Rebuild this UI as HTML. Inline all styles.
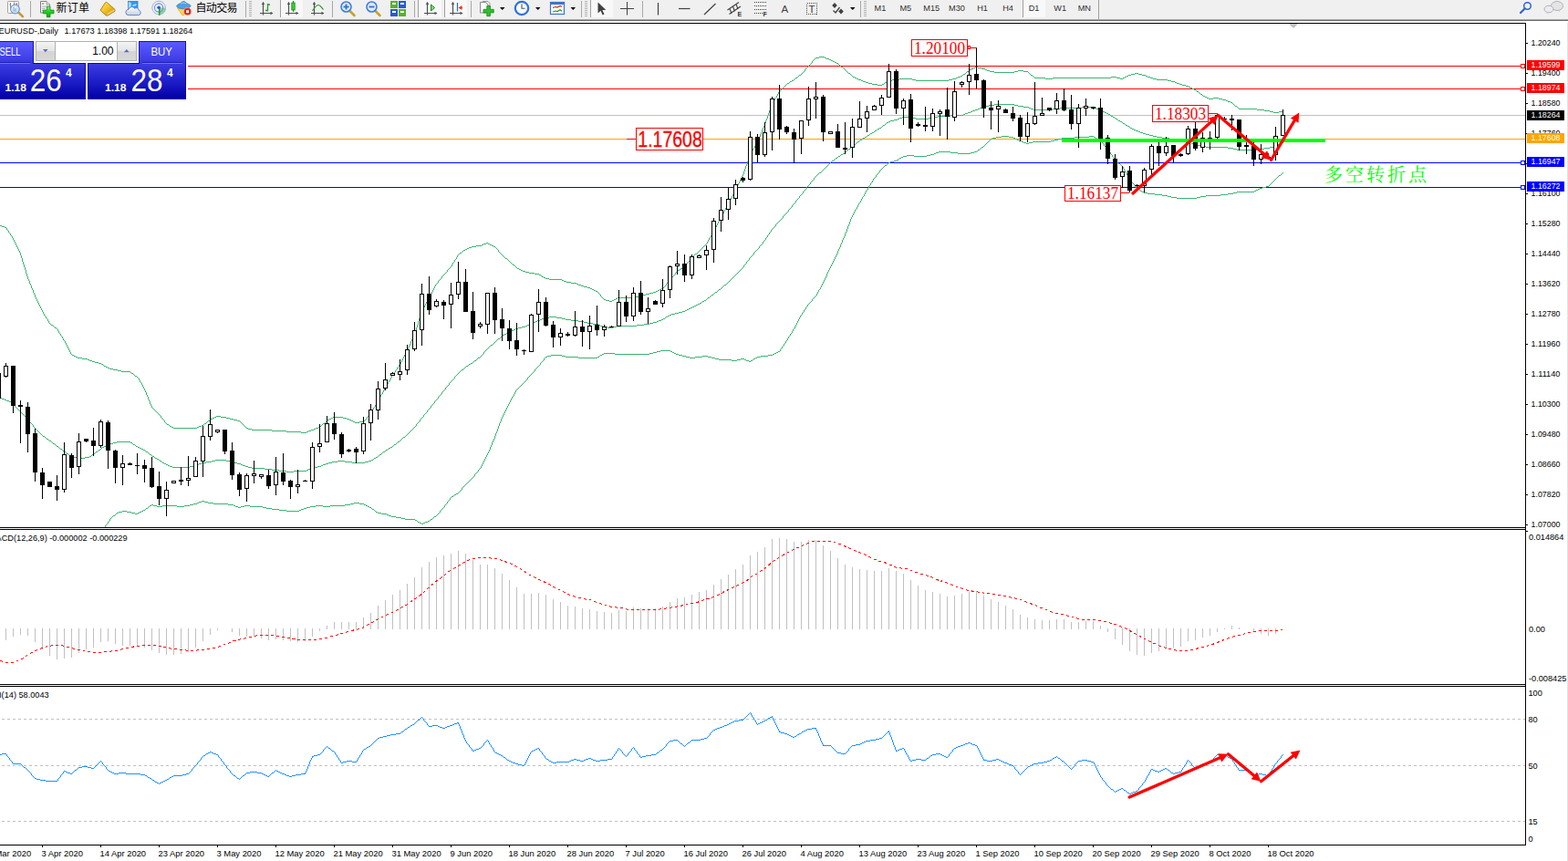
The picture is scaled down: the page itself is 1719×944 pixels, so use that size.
<!DOCTYPE html>
<html><head><meta charset="utf-8"><title>EURUSD Daily</title>
<style>html,body{margin:0;padding:0;background:#fff;overflow:hidden}svg{display:block}</style>
</head><body>
<svg width="1719" height="944" viewBox="0 0 1719 944">
<rect x="0" y="0" width="1719" height="944" fill="#ffffff"/>
<g shape-rendering="crispEdges">
<rect x="0" y="72" width="1667" height="1" fill="#ff0000"/>
<rect x="0" y="97" width="1667" height="1" fill="#ff0000"/>
<rect x="0" y="126" width="1672" height="1" fill="#c0c0c0"/>
<rect x="0" y="152" width="1672" height="1" fill="#ffa500"/>
<rect x="0" y="178" width="1667" height="1" fill="#0000ff"/>
<rect x="0" y="205" width="1667" height="1" fill="#0000ff"/>
<line x1="0" y1="788.5" x2="1672" y2="788.5" stroke="#c0c0c0" stroke-width="1" stroke-dasharray="3 3" stroke-dashoffset="-2"/>
<line x1="0" y1="839.5" x2="1672" y2="839.5" stroke="#c0c0c0" stroke-width="1" stroke-dasharray="3 3" stroke-dashoffset="-2"/>
<line x1="0" y1="900.5" x2="1672" y2="900.5" stroke="#c0c0c0" stroke-width="1" stroke-dasharray="3 3" stroke-dashoffset="-2"/>
<rect x="6" y="689" width="1" height="13" fill="#c0c0c0"/>
<rect x="14" y="689" width="1" height="9" fill="#c0c0c0"/>
<rect x="22" y="689" width="1" height="7" fill="#c0c0c0"/>
<rect x="30" y="689" width="1" height="8" fill="#c0c0c0"/>
<rect x="38" y="689" width="1" height="15" fill="#c0c0c0"/>
<rect x="46" y="689" width="1" height="23" fill="#c0c0c0"/>
<rect x="54" y="689" width="1" height="30" fill="#c0c0c0"/>
<rect x="62" y="689" width="1" height="34" fill="#c0c0c0"/>
<rect x="70" y="689" width="1" height="33" fill="#c0c0c0"/>
<rect x="78" y="689" width="1" height="32" fill="#c0c0c0"/>
<rect x="86" y="689" width="1" height="27" fill="#c0c0c0"/>
<rect x="94" y="689" width="1" height="23" fill="#c0c0c0"/>
<rect x="102" y="689" width="1" height="21" fill="#c0c0c0"/>
<rect x="110" y="689" width="1" height="15" fill="#c0c0c0"/>
<rect x="118" y="689" width="1" height="14" fill="#c0c0c0"/>
<rect x="126" y="689" width="1" height="17" fill="#c0c0c0"/>
<rect x="134" y="689" width="1" height="19" fill="#c0c0c0"/>
<rect x="142" y="689" width="1" height="19" fill="#c0c0c0"/>
<rect x="150" y="689" width="1" height="20" fill="#c0c0c0"/>
<rect x="158" y="689" width="1" height="21" fill="#c0c0c0"/>
<rect x="166" y="689" width="1" height="24" fill="#c0c0c0"/>
<rect x="174" y="689" width="1" height="27" fill="#c0c0c0"/>
<rect x="182" y="689" width="1" height="29" fill="#c0c0c0"/>
<rect x="190" y="689" width="1" height="29" fill="#c0c0c0"/>
<rect x="198" y="689" width="1" height="28" fill="#c0c0c0"/>
<rect x="206" y="689" width="1" height="26" fill="#c0c0c0"/>
<rect x="214" y="689" width="1" height="21" fill="#c0c0c0"/>
<rect x="222" y="689" width="1" height="14" fill="#c0c0c0"/>
<rect x="230" y="689" width="1" height="7" fill="#c0c0c0"/>
<rect x="238" y="689" width="1" height="2" fill="#c0c0c0"/>
<rect x="254" y="689" width="1" height="4" fill="#c0c0c0"/>
<rect x="262" y="689" width="1" height="8" fill="#c0c0c0"/>
<rect x="270" y="689" width="1" height="9" fill="#c0c0c0"/>
<rect x="278" y="689" width="1" height="9" fill="#c0c0c0"/>
<rect x="286" y="689" width="1" height="11" fill="#c0c0c0"/>
<rect x="294" y="689" width="1" height="13" fill="#c0c0c0"/>
<rect x="302" y="689" width="1" height="12" fill="#c0c0c0"/>
<rect x="310" y="689" width="1" height="13" fill="#c0c0c0"/>
<rect x="318" y="689" width="1" height="14" fill="#c0c0c0"/>
<rect x="326" y="689" width="1" height="15" fill="#c0c0c0"/>
<rect x="334" y="689" width="1" height="14" fill="#c0c0c0"/>
<rect x="342" y="689" width="1" height="9" fill="#c0c0c0"/>
<rect x="350" y="689" width="1" height="3" fill="#c0c0c0"/>
<rect x="358" y="686" width="1" height="4" fill="#c0c0c0"/>
<rect x="366" y="682" width="1" height="8" fill="#c0c0c0"/>
<rect x="374" y="682" width="1" height="8" fill="#c0c0c0"/>
<rect x="382" y="682" width="1" height="8" fill="#c0c0c0"/>
<rect x="390" y="682" width="1" height="8" fill="#c0c0c0"/>
<rect x="398" y="677" width="1" height="13" fill="#c0c0c0"/>
<rect x="406" y="672" width="1" height="18" fill="#c0c0c0"/>
<rect x="414" y="664" width="1" height="26" fill="#c0c0c0"/>
<rect x="422" y="658" width="1" height="32" fill="#c0c0c0"/>
<rect x="430" y="652" width="1" height="38" fill="#c0c0c0"/>
<rect x="438" y="647" width="1" height="43" fill="#c0c0c0"/>
<rect x="446" y="640" width="1" height="50" fill="#c0c0c0"/>
<rect x="454" y="633" width="1" height="57" fill="#c0c0c0"/>
<rect x="462" y="622" width="1" height="68" fill="#c0c0c0"/>
<rect x="470" y="616" width="1" height="74" fill="#c0c0c0"/>
<rect x="478" y="611" width="1" height="79" fill="#c0c0c0"/>
<rect x="486" y="609" width="1" height="81" fill="#c0c0c0"/>
<rect x="494" y="607" width="1" height="83" fill="#c0c0c0"/>
<rect x="502" y="604" width="1" height="86" fill="#c0c0c0"/>
<rect x="510" y="607" width="1" height="83" fill="#c0c0c0"/>
<rect x="518" y="614" width="1" height="76" fill="#c0c0c0"/>
<rect x="526" y="619" width="1" height="71" fill="#c0c0c0"/>
<rect x="534" y="619" width="1" height="71" fill="#c0c0c0"/>
<rect x="542" y="623" width="1" height="67" fill="#c0c0c0"/>
<rect x="550" y="629" width="1" height="61" fill="#c0c0c0"/>
<rect x="558" y="636" width="1" height="54" fill="#c0c0c0"/>
<rect x="566" y="644" width="1" height="46" fill="#c0c0c0"/>
<rect x="574" y="651" width="1" height="39" fill="#c0c0c0"/>
<rect x="582" y="651" width="1" height="39" fill="#c0c0c0"/>
<rect x="590" y="650" width="1" height="40" fill="#c0c0c0"/>
<rect x="598" y="652" width="1" height="38" fill="#c0c0c0"/>
<rect x="606" y="657" width="1" height="33" fill="#c0c0c0"/>
<rect x="614" y="660" width="1" height="30" fill="#c0c0c0"/>
<rect x="622" y="664" width="1" height="26" fill="#c0c0c0"/>
<rect x="630" y="665" width="1" height="25" fill="#c0c0c0"/>
<rect x="638" y="667" width="1" height="23" fill="#c0c0c0"/>
<rect x="646" y="668" width="1" height="22" fill="#c0c0c0"/>
<rect x="654" y="670" width="1" height="20" fill="#c0c0c0"/>
<rect x="662" y="671" width="1" height="19" fill="#c0c0c0"/>
<rect x="670" y="672" width="1" height="18" fill="#c0c0c0"/>
<rect x="678" y="669" width="1" height="21" fill="#c0c0c0"/>
<rect x="686" y="670" width="1" height="20" fill="#c0c0c0"/>
<rect x="694" y="666" width="1" height="24" fill="#c0c0c0"/>
<rect x="702" y="667" width="1" height="23" fill="#c0c0c0"/>
<rect x="710" y="667" width="1" height="23" fill="#c0c0c0"/>
<rect x="718" y="667" width="1" height="23" fill="#c0c0c0"/>
<rect x="726" y="665" width="1" height="25" fill="#c0c0c0"/>
<rect x="734" y="660" width="1" height="30" fill="#c0c0c0"/>
<rect x="742" y="656" width="1" height="34" fill="#c0c0c0"/>
<rect x="750" y="655" width="1" height="35" fill="#c0c0c0"/>
<rect x="758" y="652" width="1" height="38" fill="#c0c0c0"/>
<rect x="766" y="649" width="1" height="41" fill="#c0c0c0"/>
<rect x="774" y="647" width="1" height="43" fill="#c0c0c0"/>
<rect x="782" y="641" width="1" height="49" fill="#c0c0c0"/>
<rect x="790" y="635" width="1" height="55" fill="#c0c0c0"/>
<rect x="798" y="630" width="1" height="60" fill="#c0c0c0"/>
<rect x="806" y="624" width="1" height="66" fill="#c0c0c0"/>
<rect x="814" y="619" width="1" height="71" fill="#c0c0c0"/>
<rect x="822" y="609" width="1" height="81" fill="#c0c0c0"/>
<rect x="830" y="605" width="1" height="85" fill="#c0c0c0"/>
<rect x="838" y="600" width="1" height="90" fill="#c0c0c0"/>
<rect x="846" y="591" width="1" height="99" fill="#c0c0c0"/>
<rect x="854" y="590" width="1" height="100" fill="#c0c0c0"/>
<rect x="862" y="591" width="1" height="99" fill="#c0c0c0"/>
<rect x="870" y="594" width="1" height="96" fill="#c0c0c0"/>
<rect x="878" y="594" width="1" height="96" fill="#c0c0c0"/>
<rect x="886" y="592" width="1" height="98" fill="#c0c0c0"/>
<rect x="894" y="592" width="1" height="98" fill="#c0c0c0"/>
<rect x="902" y="598" width="1" height="92" fill="#c0c0c0"/>
<rect x="910" y="604" width="1" height="86" fill="#c0c0c0"/>
<rect x="918" y="612" width="1" height="78" fill="#c0c0c0"/>
<rect x="926" y="619" width="1" height="71" fill="#c0c0c0"/>
<rect x="934" y="622" width="1" height="68" fill="#c0c0c0"/>
<rect x="942" y="624" width="1" height="66" fill="#c0c0c0"/>
<rect x="950" y="625" width="1" height="65" fill="#c0c0c0"/>
<rect x="958" y="626" width="1" height="64" fill="#c0c0c0"/>
<rect x="966" y="626" width="1" height="64" fill="#c0c0c0"/>
<rect x="974" y="623" width="1" height="67" fill="#c0c0c0"/>
<rect x="982" y="626" width="1" height="64" fill="#c0c0c0"/>
<rect x="990" y="629" width="1" height="61" fill="#c0c0c0"/>
<rect x="998" y="636" width="1" height="54" fill="#c0c0c0"/>
<rect x="1006" y="642" width="1" height="48" fill="#c0c0c0"/>
<rect x="1014" y="647" width="1" height="43" fill="#c0c0c0"/>
<rect x="1022" y="649" width="1" height="41" fill="#c0c0c0"/>
<rect x="1030" y="651" width="1" height="39" fill="#c0c0c0"/>
<rect x="1038" y="654" width="1" height="36" fill="#c0c0c0"/>
<rect x="1046" y="653" width="1" height="37" fill="#c0c0c0"/>
<rect x="1054" y="651" width="1" height="39" fill="#c0c0c0"/>
<rect x="1062" y="649" width="1" height="41" fill="#c0c0c0"/>
<rect x="1070" y="648" width="1" height="42" fill="#c0c0c0"/>
<rect x="1078" y="653" width="1" height="37" fill="#c0c0c0"/>
<rect x="1086" y="657" width="1" height="33" fill="#c0c0c0"/>
<rect x="1094" y="660" width="1" height="30" fill="#c0c0c0"/>
<rect x="1102" y="664" width="1" height="26" fill="#c0c0c0"/>
<rect x="1110" y="668" width="1" height="22" fill="#c0c0c0"/>
<rect x="1118" y="674" width="1" height="16" fill="#c0c0c0"/>
<rect x="1126" y="677" width="1" height="13" fill="#c0c0c0"/>
<rect x="1134" y="679" width="1" height="11" fill="#c0c0c0"/>
<rect x="1142" y="680" width="1" height="10" fill="#c0c0c0"/>
<rect x="1150" y="680" width="1" height="10" fill="#c0c0c0"/>
<rect x="1158" y="679" width="1" height="11" fill="#c0c0c0"/>
<rect x="1166" y="679" width="1" height="11" fill="#c0c0c0"/>
<rect x="1174" y="682" width="1" height="8" fill="#c0c0c0"/>
<rect x="1182" y="682" width="1" height="8" fill="#c0c0c0"/>
<rect x="1190" y="681" width="1" height="9" fill="#c0c0c0"/>
<rect x="1198" y="681" width="1" height="9" fill="#c0c0c0"/>
<rect x="1206" y="686" width="1" height="4" fill="#c0c0c0"/>
<rect x="1214" y="689" width="1" height="4" fill="#c0c0c0"/>
<rect x="1222" y="689" width="1" height="12" fill="#c0c0c0"/>
<rect x="1230" y="689" width="1" height="18" fill="#c0c0c0"/>
<rect x="1238" y="689" width="1" height="25" fill="#c0c0c0"/>
<rect x="1246" y="689" width="1" height="29" fill="#c0c0c0"/>
<rect x="1254" y="689" width="1" height="30" fill="#c0c0c0"/>
<rect x="1262" y="689" width="1" height="27" fill="#c0c0c0"/>
<rect x="1270" y="689" width="1" height="25" fill="#c0c0c0"/>
<rect x="1278" y="689" width="1" height="22" fill="#c0c0c0"/>
<rect x="1286" y="689" width="1" height="21" fill="#c0c0c0"/>
<rect x="1294" y="689" width="1" height="20" fill="#c0c0c0"/>
<rect x="1302" y="689" width="1" height="14" fill="#c0c0c0"/>
<rect x="1310" y="689" width="1" height="13" fill="#c0c0c0"/>
<rect x="1318" y="689" width="1" height="10" fill="#c0c0c0"/>
<rect x="1326" y="689" width="1" height="8" fill="#c0c0c0"/>
<rect x="1334" y="689" width="1" height="4" fill="#c0c0c0"/>
<rect x="1342" y="689" width="1" height="1" fill="#c0c0c0"/>
<rect x="1350" y="686" width="1" height="4" fill="#c0c0c0"/>
<rect x="1358" y="688" width="1" height="2" fill="#c0c0c0"/>
<rect x="1374" y="689" width="1" height="4" fill="#c0c0c0"/>
<rect x="1382" y="689" width="1" height="6" fill="#c0c0c0"/>
<rect x="1390" y="689" width="1" height="8" fill="#c0c0c0"/>
<rect x="1398" y="689" width="1" height="6" fill="#c0c0c0"/>
</g>
<path d="M898 62h6v1h-6zM894 63h4v1h-4zM904 63h2v1h-2zM893 64h1v1h-1zM906 64h3v1h-3zM892 65h1v1h-1zM909 65h2v1h-2zM891 66h1v1h-1zM911 66h2v1h-2zM890 67h1v2h-1zM913 67h2v1h-2zM915 68h2v1h-2zM889 69h1v1h-1zM917 69h2v1h-2zM888 70h1v1h-1zM919 70h1v1h-1zM887 71h1v1h-1zM920 71h1v1h-1zM886 72h1v1h-1zM921 72h1v1h-1zM885 73h1v1h-1zM922 73h2v1h-2zM1069 73h3v1h-3zM884 74h1v1h-1zM924 74h1v1h-1zM1067 74h2v1h-2zM1072 74h4v1h-4zM883 75h1v1h-1zM925 75h1v1h-1zM1065 75h2v1h-2zM1076 75h4v1h-4zM882 76h1v2h-1zM926 76h1v1h-1zM1063 76h2v1h-2zM1080 76h2v1h-2zM927 77h1v1h-1zM1062 77h1v1h-1zM1082 77h3v1h-3zM1116 77h6v1h-6zM881 78h1v1h-1zM928 78h1v1h-1zM1060 78h2v1h-2zM1085 78h5v1h-5zM1112 78h4v1h-4zM1122 78h5v1h-5zM880 79h1v1h-1zM929 79h1v1h-1zM1059 79h1v1h-1zM1090 79h22v1h-22zM1127 79h1v1h-1zM879 80h1v1h-1zM930 80h2v1h-2zM1058 80h1v1h-1zM1128 80h1v1h-1zM1244 80h4v1h-4zM878 81h1v1h-1zM932 81h1v1h-1zM1056 81h2v1h-2zM1129 81h1v1h-1zM1240 81h4v1h-4zM1248 81h4v1h-4zM876 82h2v1h-2zM933 82h1v1h-1zM1055 82h1v1h-1zM1130 82h2v1h-2zM1237 82h3v1h-3zM1252 82h4v1h-4zM875 83h1v1h-1zM934 83h1v1h-1zM1053 83h2v1h-2zM1132 83h1v1h-1zM1235 83h2v1h-2zM1256 83h2v1h-2zM874 84h1v1h-1zM935 84h2v1h-2zM1050 84h3v1h-3zM1133 84h1v1h-1zM1218 84h6v1h-6zM1233 84h2v1h-2zM1258 84h3v1h-3zM872 85h2v1h-2zM937 85h2v1h-2zM1048 85h2v1h-2zM1134 85h12v1h-12zM1154 85h64v1h-64zM1224 85h4v1h-4zM1231 85h2v1h-2zM1261 85h3v1h-3zM871 86h1v1h-1zM939 86h2v1h-2zM986 86h14v1h-14zM1044 86h4v1h-4zM1146 86h8v1h-8zM1228 86h3v1h-3zM1264 86h4v1h-4zM870 87h1v1h-1zM941 87h3v1h-3zM978 87h8v1h-8zM1000 87h4v1h-4zM1040 87h4v1h-4zM1268 87h12v1h-12zM868 88h2v1h-2zM944 88h2v1h-2zM974 88h4v1h-4zM1004 88h36v1h-36zM1280 88h4v1h-4zM866 89h2v1h-2zM946 89h3v1h-3zM972 89h2v1h-2zM1284 89h4v1h-4zM865 90h1v1h-1zM949 90h3v1h-3zM970 90h2v1h-2zM1288 90h2v1h-2zM863 91h2v1h-2zM952 91h4v1h-4zM969 91h1v1h-1zM1290 91h3v1h-3zM862 92h1v1h-1zM956 92h6v1h-6zM967 92h2v1h-2zM1293 92h3v1h-3zM861 93h1v1h-1zM962 93h5v1h-5zM1296 93h4v1h-4zM860 94h1v1h-1zM1300 94h3v1h-3zM859 95h1v1h-1zM1303 95h2v1h-2zM858 96h1v1h-1zM1305 96h2v1h-2zM857 97h1v1h-1zM1307 97h2v1h-2zM856 98h1v1h-1zM1309 98h2v1h-2zM855 99h1v1h-1zM1311 99h1v1h-1zM854 100h1v1h-1zM1312 100h2v1h-2zM853 101h1v2h-1zM1314 101h1v1h-1zM1315 102h1v1h-1zM852 103h1v2h-1zM1316 103h2v1h-2zM1318 104h1v1h-1zM851 105h1v2h-1zM1319 105h2v1h-2zM1321 106h2v1h-2zM850 107h1v1h-1zM1323 107h2v1h-2zM1330 107h6v1h-6zM849 108h1v2h-1zM1325 108h5v1h-5zM1336 108h4v1h-4zM1340 109h4v1h-4zM848 110h1v2h-1zM1344 110h2v1h-2zM1346 111h3v1h-3zM847 112h1v2h-1zM1349 112h2v1h-2zM1351 113h1v1h-1zM846 114h1v2h-1zM1352 114h1v1h-1zM1353 115h1v1h-1zM845 116h1v3h-1zM1354 116h2v1h-2zM1356 117h1v1h-1zM1357 118h1v1h-1zM844 119h1v2h-1zM1358 119h20v1h-20zM1378 120h8v1h-8zM843 121h1v3h-1zM1386 121h6v1h-6zM1392 122h4v1h-4zM1402 122h5v1h-5zM1396 123h6v1h-6zM842 124h1v3h-1zM841 127h1v3h-1zM840 130h1v2h-1zM839 132h1v3h-1zM838 135h1v3h-1zM837 138h1v2h-1zM836 140h1v2h-1zM835 142h1v3h-1zM834 145h1v2h-1zM833 147h1v3h-1zM832 150h1v2h-1zM831 152h1v2h-1zM830 154h1v2h-1zM829 156h1v2h-1zM828 158h1v2h-1zM827 160h1v2h-1zM826 162h1v1h-1zM825 163h1v2h-1zM824 165h1v2h-1zM823 167h1v2h-1zM822 169h1v2h-1zM821 171h1v3h-1zM820 174h1v3h-1zM819 177h1v3h-1zM818 180h1v2h-1zM817 182h1v3h-1zM816 185h1v3h-1zM815 188h1v3h-1zM814 191h1v2h-1zM813 193h1v2h-1zM812 195h1v2h-1zM811 197h1v2h-1zM810 199h1v2h-1zM809 201h1v2h-1zM808 203h1v2h-1zM807 205h1v2h-1zM806 207h1v2h-1zM805 209h1v2h-1zM804 211h1v2h-1zM803 213h1v2h-1zM802 215h1v2h-1zM801 217h1v2h-1zM800 219h1v2h-1zM799 221h1v2h-1zM798 223h1v1h-1zM797 224h1v2h-1zM796 226h1v2h-1zM795 228h1v2h-1zM794 230h1v2h-1zM793 232h1v2h-1zM792 234h1v2h-1zM791 236h1v2h-1zM790 238h1v1h-1zM789 239h1v2h-1zM788 241h1v2h-1zM787 243h1v2h-1zM786 245h1v2h-1zM0 247h2v1h-2zM785 247h1v2h-1zM2 248h3v1h-3zM5 249h2v1h-2zM784 249h1v2h-1zM7 250h1v2h-1zM783 251h1v2h-1zM8 252h1v1h-1zM9 253h1v2h-1zM782 253h1v1h-1zM781 254h1v2h-1zM10 255h1v1h-1zM11 256h1v2h-1zM780 256h1v2h-1zM12 258h1v1h-1zM779 258h1v2h-1zM13 259h1v2h-1zM778 260h1v1h-1zM14 261h1v2h-1zM777 261h1v2h-1zM15 263h1v2h-1zM776 263h1v2h-1zM16 265h1v2h-1zM775 265h1v2h-1zM533 266h2v1h-2zM17 267h1v2h-1zM530 267h3v1h-3zM535 267h2v1h-2zM774 267h1v1h-1zM528 268h2v1h-2zM537 268h2v1h-2zM773 268h1v1h-1zM18 269h1v2h-1zM522 269h6v1h-6zM539 269h2v1h-2zM772 269h1v1h-1zM517 270h5v1h-5zM541 270h2v1h-2zM771 270h1v1h-1zM19 271h1v2h-1zM514 271h3v1h-3zM543 271h1v1h-1zM770 271h1v1h-1zM512 272h2v1h-2zM544 272h1v1h-1zM769 272h1v1h-1zM20 273h1v2h-1zM510 273h2v1h-2zM545 273h1v1h-1zM768 273h1v1h-1zM508 274h2v1h-2zM546 274h1v2h-1zM767 274h1v1h-1zM21 275h1v2h-1zM507 275h1v1h-1zM766 275h1v1h-1zM506 276h1v1h-1zM547 276h1v1h-1zM765 276h1v1h-1zM22 277h1v3h-1zM504 277h2v1h-2zM548 277h1v1h-1zM764 277h1v1h-1zM503 278h1v1h-1zM549 278h1v1h-1zM762 278h2v1h-2zM502 279h1v1h-1zM550 279h1v1h-1zM761 279h1v1h-1zM23 280h1v3h-1zM501 280h1v2h-1zM551 280h1v1h-1zM760 280h1v1h-1zM552 281h1v1h-1zM759 281h1v1h-1zM500 282h1v2h-1zM553 282h1v1h-1zM758 282h1v1h-1zM24 283h1v4h-1zM554 283h2v1h-2zM757 283h1v1h-1zM499 284h1v1h-1zM556 284h1v1h-1zM756 284h1v2h-1zM498 285h1v2h-1zM557 285h1v1h-1zM558 286h1v1h-1zM755 286h1v1h-1zM25 287h1v3h-1zM497 287h1v1h-1zM559 287h1v1h-1zM754 287h1v1h-1zM496 288h1v2h-1zM560 288h1v1h-1zM753 288h1v1h-1zM561 289h1v1h-1zM752 289h1v2h-1zM26 290h1v3h-1zM495 290h1v2h-1zM562 290h2v1h-2zM564 291h1v1h-1zM751 291h1v1h-1zM494 292h1v1h-1zM565 292h1v1h-1zM750 292h1v1h-1zM27 293h1v3h-1zM493 293h1v1h-1zM566 293h1v1h-1zM748 293h2v1h-2zM492 294h1v1h-1zM567 294h2v1h-2zM746 294h2v1h-2zM491 295h1v1h-1zM569 295h2v1h-2zM745 295h1v1h-1zM28 296h1v4h-1zM490 296h1v2h-1zM571 296h2v1h-2zM743 296h2v1h-2zM573 297h3v1h-3zM742 297h1v1h-1zM489 298h1v1h-1zM576 298h4v1h-4zM741 298h1v1h-1zM488 299h1v1h-1zM580 299h6v1h-6zM740 299h1v2h-1zM29 300h1v3h-1zM487 300h1v1h-1zM586 300h5v1h-5zM486 301h1v1h-1zM591 301h2v1h-2zM739 301h1v1h-1zM485 302h1v1h-1zM593 302h1v1h-1zM738 302h1v1h-1zM30 303h1v3h-1zM484 303h1v2h-1zM594 303h2v1h-2zM737 303h1v1h-1zM596 304h2v1h-2zM736 304h1v2h-1zM483 305h1v1h-1zM598 305h4v1h-4zM31 306h1v2h-1zM482 306h1v1h-1zM602 306h14v1h-14zM735 306h1v1h-1zM481 307h1v1h-1zM616 307h2v1h-2zM734 307h1v1h-1zM32 308h1v3h-1zM480 308h1v2h-1zM618 308h3v1h-3zM733 308h1v1h-1zM621 309h5v1h-5zM732 309h1v1h-1zM479 310h1v1h-1zM626 310h6v1h-6zM731 310h1v1h-1zM33 311h1v2h-1zM478 311h1v1h-1zM632 311h2v1h-2zM730 311h1v2h-1zM477 312h1v2h-1zM634 312h3v1h-3zM34 313h1v3h-1zM637 313h3v1h-3zM729 313h1v1h-1zM476 314h1v2h-1zM640 314h4v1h-4zM728 314h1v1h-1zM644 315h3v1h-3zM727 315h1v1h-1zM35 316h1v2h-1zM475 316h1v2h-1zM647 316h2v1h-2zM725 316h2v1h-2zM649 317h2v1h-2zM723 317h2v1h-2zM36 318h1v3h-1zM474 318h1v2h-1zM651 318h2v1h-2zM721 318h2v1h-2zM653 319h2v1h-2zM719 319h2v1h-2zM473 320h1v2h-1zM655 320h1v1h-1zM716 320h3v1h-3zM37 321h1v2h-1zM656 321h1v1h-1zM712 321h4v1h-4zM472 322h1v2h-1zM657 322h1v1h-1zM708 322h4v1h-4zM38 323h1v3h-1zM658 323h1v2h-1zM704 323h4v1h-4zM471 324h1v2h-1zM700 324h4v1h-4zM659 325h1v1h-1zM696 325h4v1h-4zM39 326h1v2h-1zM470 326h1v1h-1zM660 326h1v1h-1zM677 326h19v1h-19zM469 327h1v2h-1zM661 327h1v1h-1zM675 327h2v1h-2zM40 328h1v2h-1zM662 328h2v1h-2zM673 328h2v1h-2zM468 329h1v2h-1zM664 329h4v1h-4zM671 329h2v1h-2zM41 330h1v2h-1zM668 330h3v1h-3zM467 331h1v2h-1zM42 332h1v2h-1zM466 333h1v2h-1zM43 334h1v2h-1zM465 335h1v2h-1zM44 336h1v2h-1zM464 337h1v2h-1zM45 338h1v2h-1zM463 339h1v2h-1zM46 340h1v2h-1zM462 341h1v2h-1zM47 342h1v2h-1zM461 343h1v3h-1zM48 344h1v2h-1zM49 346h1v1h-1zM460 346h1v3h-1zM50 347h1v2h-1zM51 349h1v1h-1zM459 349h1v3h-1zM52 350h1v2h-1zM53 352h1v2h-1zM458 352h1v4h-1zM54 354h1v1h-1zM55 355h1v1h-1zM56 356h2v1h-2zM457 356h1v3h-1zM58 357h1v1h-1zM59 358h1v1h-1zM60 359h2v1h-2zM456 359h1v3h-1zM62 360h1v1h-1zM63 361h1v2h-1zM455 362h1v3h-1zM64 363h1v2h-1zM65 365h1v1h-1zM454 365h1v3h-1zM66 366h1v2h-1zM67 368h1v1h-1zM453 368h1v2h-1zM68 369h1v2h-1zM452 370h1v2h-1zM69 371h1v2h-1zM451 372h1v2h-1zM70 373h1v1h-1zM71 374h1v2h-1zM450 374h1v3h-1zM72 376h1v2h-1zM449 377h1v2h-1zM73 378h1v2h-1zM448 379h1v2h-1zM74 380h1v2h-1zM447 381h1v2h-1zM75 382h1v2h-1zM446 383h1v2h-1zM76 384h1v2h-1zM445 385h1v2h-1zM77 386h1v2h-1zM444 387h1v2h-1zM78 388h1v1h-1zM79 389h2v1h-2zM443 389h1v2h-1zM81 390h2v1h-2zM83 391h2v1h-2zM442 391h1v2h-1zM85 392h5v1h-5zM90 393h6v1h-6zM441 393h1v2h-1zM96 394h2v1h-2zM98 395h3v1h-3zM440 395h1v2h-1zM101 396h3v1h-3zM104 397h4v1h-4zM439 397h1v2h-1zM108 398h3v1h-3zM111 399h2v1h-2zM438 399h1v1h-1zM113 400h1v1h-1zM437 400h1v2h-1zM114 401h2v1h-2zM116 402h2v1h-2zM436 402h1v1h-1zM118 403h2v1h-2zM435 403h1v2h-1zM120 404h4v1h-4zM124 405h5v1h-5zM434 405h1v1h-1zM129 406h4v1h-4zM433 406h1v2h-1zM133 407h10v1h-10zM143 408h1v1h-1zM432 408h1v1h-1zM144 409h2v1h-2zM431 409h1v2h-1zM146 410h1v1h-1zM147 411h1v1h-1zM430 411h1v1h-1zM148 412h2v1h-2zM429 412h1v2h-1zM150 413h1v1h-1zM151 414h1v1h-1zM428 414h1v2h-1zM152 415h1v2h-1zM427 416h1v2h-1zM153 417h1v2h-1zM426 418h1v1h-1zM154 419h1v1h-1zM425 419h1v2h-1zM155 420h1v2h-1zM424 421h1v2h-1zM156 422h1v2h-1zM423 423h1v2h-1zM157 424h1v2h-1zM422 425h1v1h-1zM158 426h1v2h-1zM421 426h1v2h-1zM159 428h1v2h-1zM420 428h1v2h-1zM160 430h1v3h-1zM419 430h1v2h-1zM418 432h1v1h-1zM161 433h1v2h-1zM417 433h1v2h-1zM162 435h1v3h-1zM416 435h1v2h-1zM415 437h1v2h-1zM163 438h1v2h-1zM414 439h1v1h-1zM164 440h1v3h-1zM413 440h1v2h-1zM412 442h1v2h-1zM165 443h1v2h-1zM411 444h1v2h-1zM166 445h1v2h-1zM410 446h1v1h-1zM167 447h1v1h-1zM409 447h1v2h-1zM168 448h1v1h-1zM169 449h1v1h-1zM408 449h1v2h-1zM170 450h1v1h-1zM171 451h1v1h-1zM407 451h1v2h-1zM172 452h1v1h-1zM173 453h1v1h-1zM406 453h1v1h-1zM174 454h1v1h-1zM405 454h1v1h-1zM175 455h1v1h-1zM404 455h1v1h-1zM176 456h1v2h-1zM237 456h5v1h-5zM403 456h1v1h-1zM235 457h2v1h-2zM242 457h6v1h-6zM365 457h11v1h-11zM402 457h1v2h-1zM177 458h1v1h-1zM233 458h2v1h-2zM248 458h4v1h-4zM363 458h2v1h-2zM376 458h4v1h-4zM178 459h1v1h-1zM231 459h2v1h-2zM252 459h4v1h-4zM361 459h2v1h-2zM380 459h3v1h-3zM401 459h1v1h-1zM179 460h1v1h-1zM230 460h1v1h-1zM256 460h4v1h-4zM359 460h2v1h-2zM383 460h2v1h-2zM400 460h1v1h-1zM180 461h1v2h-1zM228 461h2v1h-2zM260 461h3v1h-3zM358 461h1v1h-1zM385 461h2v1h-2zM399 461h1v1h-1zM227 462h1v1h-1zM263 462h1v1h-1zM357 462h1v1h-1zM387 462h2v1h-2zM394 462h5v1h-5zM181 463h1v1h-1zM226 463h1v1h-1zM264 463h1v1h-1zM356 463h1v1h-1zM389 463h5v1h-5zM182 464h1v1h-1zM224 464h2v1h-2zM265 464h1v1h-1zM354 464h2v1h-2zM183 465h2v1h-2zM223 465h1v1h-1zM266 465h1v1h-1zM353 465h1v1h-1zM185 466h1v1h-1zM221 466h2v1h-2zM267 466h1v1h-1zM352 466h1v1h-1zM186 467h2v1h-2zM218 467h3v1h-3zM268 467h1v1h-1zM351 467h1v1h-1zM188 468h2v1h-2zM216 468h2v1h-2zM269 468h1v1h-1zM349 468h2v1h-2zM190 469h26v1h-26zM270 469h2v1h-2zM346 469h3v1h-3zM272 470h4v1h-4zM344 470h2v1h-2zM276 471h22v1h-22zM341 471h3v1h-3zM298 472h16v1h-16zM338 472h3v1h-3zM314 473h16v1h-16zM336 473h2v1h-2zM330 474h6v1h-6z" fill="#3cb371" shape-rendering="crispEdges"/>
<path d="M1090 114h22v1h-22zM1084 115h6v1h-6zM1112 115h4v1h-4zM1080 116h4v1h-4zM1116 116h6v1h-6zM1077 117h3v1h-3zM1122 117h6v1h-6zM1186 117h14v1h-14zM1074 118h3v1h-3zM1128 118h2v1h-2zM1162 118h24v1h-24zM1200 118h2v1h-2zM1072 119h2v1h-2zM1130 119h3v1h-3zM1154 119h8v1h-8zM1202 119h3v1h-3zM1069 120h3v1h-3zM1133 120h21v1h-21zM1205 120h2v1h-2zM1066 121h3v1h-3zM1207 121h2v1h-2zM1064 122h2v1h-2zM1209 122h2v1h-2zM1061 123h3v1h-3zM1211 123h2v1h-2zM1058 124h3v1h-3zM1213 124h2v1h-2zM1056 125h2v1h-2zM1215 125h2v1h-2zM1042 126h14v1h-14zM1217 126h1v1h-1zM1028 127h14v1h-14zM1218 127h2v1h-2zM989 128h11v1h-11zM1024 128h4v1h-4zM1220 128h2v1h-2zM986 129h3v1h-3zM1000 129h4v1h-4zM1018 129h6v1h-6zM1222 129h1v1h-1zM984 130h2v1h-2zM1004 130h14v1h-14zM1223 130h2v1h-2zM980 131h4v1h-4zM1225 131h1v1h-1zM976 132h4v1h-4zM1226 132h2v1h-2zM974 133h2v1h-2zM1228 133h2v1h-2zM972 134h2v1h-2zM1230 134h1v1h-1zM971 135h1v1h-1zM1231 135h2v1h-2zM970 136h1v1h-1zM1233 136h1v1h-1zM968 137h2v1h-2zM1234 137h2v1h-2zM967 138h1v1h-1zM1236 138h2v1h-2zM966 139h1v1h-1zM1238 139h1v1h-1zM964 140h2v1h-2zM1239 140h2v1h-2zM962 141h2v1h-2zM1241 141h2v1h-2zM961 142h1v1h-1zM1243 142h2v1h-2zM959 143h2v1h-2zM1245 143h3v1h-3zM958 144h1v1h-1zM1248 144h2v1h-2zM956 145h2v1h-2zM1250 145h3v1h-3zM954 146h2v1h-2zM1253 146h3v1h-3zM953 147h1v1h-1zM1256 147h4v1h-4zM951 148h2v1h-2zM1260 148h4v1h-4zM950 149h1v1h-1zM1264 149h4v1h-4zM948 150h2v1h-2zM1268 150h6v1h-6zM946 151h2v1h-2zM1274 151h8v1h-8zM945 152h1v1h-1zM1282 152h6v1h-6zM943 153h2v1h-2zM1288 153h2v1h-2zM942 154h1v1h-1zM1290 154h3v1h-3zM940 155h2v1h-2zM1293 155h11v1h-11zM939 156h1v1h-1zM1304 156h2v1h-2zM1405 156h2v1h-2zM938 157h1v1h-1zM1306 157h3v1h-3zM1403 157h2v1h-2zM936 158h2v1h-2zM1309 158h3v1h-3zM1401 158h2v1h-2zM935 159h1v1h-1zM1312 159h4v1h-4zM1399 159h2v1h-2zM934 160h1v1h-1zM1316 160h6v1h-6zM1396 160h3v1h-3zM933 161h1v1h-1zM1322 161h24v1h-24zM1392 161h4v1h-4zM932 162h1v1h-1zM1346 162h6v1h-6zM1386 162h6v1h-6zM930 163h2v1h-2zM1352 163h4v1h-4zM1378 163h8v1h-8zM929 164h1v1h-1zM1356 164h22v1h-22zM928 165h1v1h-1zM927 166h1v1h-1zM926 167h1v1h-1zM924 168h2v1h-2zM922 169h2v1h-2zM921 170h1v1h-1zM919 171h2v1h-2zM918 172h1v1h-1zM916 173h2v1h-2zM915 174h1v1h-1zM914 175h1v1h-1zM912 176h2v1h-2zM911 177h1v1h-1zM910 178h1v1h-1zM909 179h1v1h-1zM908 180h1v1h-1zM907 181h1v1h-1zM906 182h1v1h-1zM905 183h1v1h-1zM904 184h1v1h-1zM903 185h1v1h-1zM902 186h1v1h-1zM901 187h1v1h-1zM900 188h1v1h-1zM898 189h2v1h-2zM897 190h1v1h-1zM896 191h1v1h-1zM895 192h1v1h-1zM894 193h1v1h-1zM893 194h1v1h-1zM892 195h1v2h-1zM891 197h1v1h-1zM890 198h1v1h-1zM889 199h1v1h-1zM888 200h1v2h-1zM887 202h1v1h-1zM886 203h1v1h-1zM885 204h1v1h-1zM884 205h1v2h-1zM883 207h1v1h-1zM882 208h1v1h-1zM881 209h1v1h-1zM880 210h1v2h-1zM879 212h1v1h-1zM878 213h1v1h-1zM877 214h1v1h-1zM876 215h1v2h-1zM875 217h1v1h-1zM874 218h1v1h-1zM873 219h1v1h-1zM872 220h1v2h-1zM871 222h1v1h-1zM870 223h1v1h-1zM869 224h1v1h-1zM868 225h1v2h-1zM867 227h1v1h-1zM866 228h1v1h-1zM865 229h1v1h-1zM864 230h1v2h-1zM863 232h1v1h-1zM862 233h1v1h-1zM861 234h1v1h-1zM860 235h1v1h-1zM859 236h1v1h-1zM858 237h1v2h-1zM857 239h1v1h-1zM856 240h1v1h-1zM855 241h1v1h-1zM854 242h1v1h-1zM853 243h1v1h-1zM852 244h1v1h-1zM851 245h1v1h-1zM850 246h1v2h-1zM849 248h1v1h-1zM848 249h1v1h-1zM847 250h1v1h-1zM846 251h1v1h-1zM845 252h1v2h-1zM844 254h1v1h-1zM843 255h1v2h-1zM842 257h1v1h-1zM841 258h1v2h-1zM840 260h1v1h-1zM839 261h1v2h-1zM838 263h1v1h-1zM837 264h1v1h-1zM836 265h1v2h-1zM835 267h1v1h-1zM834 268h1v1h-1zM833 269h1v1h-1zM832 270h1v2h-1zM831 272h1v1h-1zM830 273h1v1h-1zM829 274h1v1h-1zM828 275h1v1h-1zM827 276h1v1h-1zM826 277h1v2h-1zM825 279h1v1h-1zM824 280h1v1h-1zM823 281h1v1h-1zM822 282h1v1h-1zM821 283h1v2h-1zM820 285h1v1h-1zM819 286h1v1h-1zM818 287h1v2h-1zM817 289h1v1h-1zM816 290h1v1h-1zM815 291h1v2h-1zM814 293h1v1h-1zM813 294h1v1h-1zM812 295h1v1h-1zM811 296h1v1h-1zM810 297h1v1h-1zM809 298h1v1h-1zM808 299h1v1h-1zM807 300h1v1h-1zM806 301h1v1h-1zM805 302h1v1h-1zM804 303h1v1h-1zM803 304h1v1h-1zM802 305h1v1h-1zM801 306h1v1h-1zM800 307h1v1h-1zM799 308h1v1h-1zM798 309h1v1h-1zM797 310h1v1h-1zM796 311h1v1h-1zM794 312h2v1h-2zM793 313h1v1h-1zM792 314h1v1h-1zM791 315h1v1h-1zM790 316h1v1h-1zM788 317h2v1h-2zM787 318h1v1h-1zM786 319h1v1h-1zM784 320h2v1h-2zM783 321h1v1h-1zM782 322h1v1h-1zM780 323h2v1h-2zM779 324h1v1h-1zM778 325h1v1h-1zM776 326h2v1h-2zM775 327h1v1h-1zM774 328h1v1h-1zM772 329h2v1h-2zM770 330h2v1h-2zM769 331h1v1h-1zM767 332h2v1h-2zM765 333h2v1h-2zM763 334h2v1h-2zM761 335h2v1h-2zM759 336h2v1h-2zM757 337h2v1h-2zM755 338h2v1h-2zM753 339h2v1h-2zM751 340h2v1h-2zM748 341h3v1h-3zM744 342h4v1h-4zM740 343h4v1h-4zM736 344h4v1h-4zM734 345h2v1h-2zM732 346h2v1h-2zM602 347h8v1h-8zM730 347h2v1h-2zM597 348h5v1h-5zM610 348h6v1h-6zM729 348h1v1h-1zM594 349h3v1h-3zM616 349h4v1h-4zM727 349h2v1h-2zM592 350h2v1h-2zM620 350h6v1h-6zM725 350h2v1h-2zM589 351h3v1h-3zM626 351h8v1h-8zM722 351h3v1h-3zM587 352h2v1h-2zM634 352h6v1h-6zM720 352h2v1h-2zM585 353h2v1h-2zM640 353h4v1h-4zM716 353h4v1h-4zM583 354h2v1h-2zM644 354h6v1h-6zM712 354h4v1h-4zM581 355h2v1h-2zM650 355h6v1h-6zM706 355h6v1h-6zM578 356h3v1h-3zM656 356h2v1h-2zM698 356h8v1h-8zM576 357h2v1h-2zM658 357h3v1h-3zM676 357h22v1h-22zM572 358h4v1h-4zM661 358h5v1h-5zM672 358h4v1h-4zM568 359h4v1h-4zM666 359h6v1h-6zM565 360h3v1h-3zM563 361h2v1h-2zM561 362h2v1h-2zM559 363h2v1h-2zM557 364h2v1h-2zM555 365h2v1h-2zM553 366h2v1h-2zM551 367h2v1h-2zM550 368h1v1h-1zM549 369h1v1h-1zM548 370h1v1h-1zM546 371h2v1h-2zM545 372h1v1h-1zM544 373h1v1h-1zM543 374h1v1h-1zM542 375h1v1h-1zM541 376h1v1h-1zM540 377h1v1h-1zM538 378h2v1h-2zM537 379h1v1h-1zM536 380h1v1h-1zM535 381h1v1h-1zM534 382h1v1h-1zM533 383h1v1h-1zM532 384h1v1h-1zM531 385h1v1h-1zM530 386h1v2h-1zM529 388h1v1h-1zM528 389h1v1h-1zM527 390h1v1h-1zM526 391h1v1h-1zM524 392h2v1h-2zM523 393h1v1h-1zM522 394h1v1h-1zM520 395h2v1h-2zM519 396h1v1h-1zM518 397h1v1h-1zM516 398h2v1h-2zM514 399h2v1h-2zM513 400h1v1h-1zM511 401h2v1h-2zM510 402h1v1h-1zM509 403h1v1h-1zM508 404h1v1h-1zM506 405h2v1h-2zM505 406h1v1h-1zM504 407h1v1h-1zM503 408h1v1h-1zM502 409h1v1h-1zM501 410h1v1h-1zM500 411h1v1h-1zM499 412h1v1h-1zM498 413h1v2h-1zM497 415h1v1h-1zM496 416h1v1h-1zM495 417h1v1h-1zM494 418h1v1h-1zM493 419h1v1h-1zM492 420h1v2h-1zM491 422h1v1h-1zM490 423h1v1h-1zM489 424h1v1h-1zM488 425h1v2h-1zM487 427h1v1h-1zM486 428h1v1h-1zM485 429h1v1h-1zM484 430h1v2h-1zM483 432h1v1h-1zM482 433h1v1h-1zM481 434h1v1h-1zM480 435h1v2h-1zM0 436h2v1h-2zM2 437h3v1h-3zM479 437h1v1h-1zM5 438h2v1h-2zM478 438h1v1h-1zM7 439h3v1h-3zM477 439h1v1h-1zM10 440h2v1h-2zM476 440h1v2h-1zM12 441h1v1h-1zM13 442h1v1h-1zM475 442h1v1h-1zM14 443h1v1h-1zM474 443h1v1h-1zM15 444h1v1h-1zM473 444h1v1h-1zM16 445h1v1h-1zM472 445h1v2h-1zM17 446h1v1h-1zM18 447h1v1h-1zM471 447h1v1h-1zM19 448h1v1h-1zM470 448h1v1h-1zM20 449h1v1h-1zM469 449h1v1h-1zM21 450h1v1h-1zM468 450h1v2h-1zM22 451h1v1h-1zM23 452h1v1h-1zM467 452h1v1h-1zM24 453h1v1h-1zM466 453h1v1h-1zM25 454h1v1h-1zM465 454h1v1h-1zM26 455h1v1h-1zM464 455h1v2h-1zM27 456h1v1h-1zM28 457h1v1h-1zM463 457h1v1h-1zM29 458h1v1h-1zM462 458h1v1h-1zM30 459h1v1h-1zM461 459h1v1h-1zM31 460h1v1h-1zM460 460h1v2h-1zM32 461h1v2h-1zM459 462h1v1h-1zM33 463h1v1h-1zM458 463h1v1h-1zM34 464h1v1h-1zM457 464h1v1h-1zM35 465h1v1h-1zM456 465h1v2h-1zM36 466h1v2h-1zM455 467h1v1h-1zM37 468h1v1h-1zM454 468h1v1h-1zM38 469h1v1h-1zM453 469h1v1h-1zM39 470h1v1h-1zM452 470h1v1h-1zM40 471h1v1h-1zM451 471h1v1h-1zM41 472h1v1h-1zM450 472h1v1h-1zM42 473h1v1h-1zM449 473h1v1h-1zM43 474h1v1h-1zM448 474h1v1h-1zM44 475h1v1h-1zM447 475h1v1h-1zM45 476h1v1h-1zM446 476h1v1h-1zM46 477h1v1h-1zM445 477h1v1h-1zM47 478h2v1h-2zM444 478h1v1h-1zM49 479h1v1h-1zM442 479h2v1h-2zM50 480h1v1h-1zM441 480h1v1h-1zM51 481h2v1h-2zM440 481h1v1h-1zM53 482h1v1h-1zM439 482h1v1h-1zM54 483h2v1h-2zM438 483h1v1h-1zM56 484h1v1h-1zM128 484h15v1h-15zM436 484h2v1h-2zM57 485h1v1h-1zM124 485h4v1h-4zM143 485h2v1h-2zM435 485h1v1h-1zM58 486h2v1h-2zM120 486h4v1h-4zM145 486h1v1h-1zM434 486h1v1h-1zM60 487h1v1h-1zM118 487h2v1h-2zM146 487h2v1h-2zM432 487h2v1h-2zM61 488h1v1h-1zM116 488h2v1h-2zM148 488h1v1h-1zM431 488h1v1h-1zM62 489h2v1h-2zM114 489h2v1h-2zM149 489h2v1h-2zM430 489h1v1h-1zM64 490h1v1h-1zM112 490h2v1h-2zM151 490h2v1h-2zM428 490h2v1h-2zM65 491h1v1h-1zM111 491h1v1h-1zM153 491h2v1h-2zM426 491h2v1h-2zM66 492h2v1h-2zM110 492h1v1h-1zM155 492h2v1h-2zM425 492h1v1h-1zM68 493h1v1h-1zM108 493h2v1h-2zM157 493h2v1h-2zM423 493h2v1h-2zM69 494h1v1h-1zM107 494h1v1h-1zM159 494h1v1h-1zM422 494h1v1h-1zM70 495h2v1h-2zM105 495h2v1h-2zM160 495h2v1h-2zM420 495h2v1h-2zM72 496h1v1h-1zM104 496h1v1h-1zM162 496h1v1h-1zM419 496h1v1h-1zM73 497h2v1h-2zM102 497h2v1h-2zM163 497h1v1h-1zM418 497h1v1h-1zM75 498h1v1h-1zM101 498h1v1h-1zM164 498h2v1h-2zM416 498h2v1h-2zM76 499h2v1h-2zM100 499h1v1h-1zM166 499h1v1h-1zM415 499h1v1h-1zM78 500h2v1h-2zM98 500h2v1h-2zM167 500h2v1h-2zM414 500h1v1h-1zM80 501h4v1h-4zM93 501h5v1h-5zM169 501h1v1h-1zM412 501h2v1h-2zM84 502h9v1h-9zM170 502h2v1h-2zM410 502h2v1h-2zM172 503h2v1h-2zM409 503h1v1h-1zM174 504h1v1h-1zM236 504h12v1h-12zM407 504h2v1h-2zM175 505h2v1h-2zM232 505h4v1h-4zM248 505h4v1h-4zM370 505h8v1h-8zM404 505h3v1h-3zM177 506h1v1h-1zM226 506h6v1h-6zM252 506h4v1h-4zM364 506h6v1h-6zM378 506h8v1h-8zM400 506h4v1h-4zM178 507h2v1h-2zM221 507h5v1h-5zM256 507h4v1h-4zM360 507h4v1h-4zM386 507h14v1h-14zM180 508h2v1h-2zM218 508h3v1h-3zM260 508h4v1h-4zM357 508h3v1h-3zM182 509h2v1h-2zM216 509h2v1h-2zM264 509h2v1h-2zM354 509h3v1h-3zM184 510h2v1h-2zM212 510h4v1h-4zM266 510h3v1h-3zM352 510h2v1h-2zM186 511h3v1h-3zM208 511h4v1h-4zM269 511h3v1h-3zM348 511h4v1h-4zM189 512h19v1h-19zM272 512h4v1h-4zM344 512h4v1h-4zM276 513h14v1h-14zM341 513h3v1h-3zM290 514h8v1h-8zM338 514h3v1h-3zM298 515h8v1h-8zM336 515h2v1h-2zM306 516h8v1h-8zM322 516h14v1h-14zM314 517h8v1h-8z" fill="#3cb371" shape-rendering="crispEdges"/>
<path d="M1098 149h8v1h-8zM1194 149h5v1h-5zM1092 150h6v1h-6zM1106 150h5v1h-5zM1178 150h16v1h-16zM1199 150h2v1h-2zM1088 151h4v1h-4zM1111 151h2v1h-2zM1164 151h14v1h-14zM1201 151h1v1h-1zM1086 152h2v1h-2zM1113 152h2v1h-2zM1160 152h4v1h-4zM1202 152h2v1h-2zM1085 153h1v1h-1zM1115 153h2v1h-2zM1156 153h4v1h-4zM1204 153h2v1h-2zM1084 154h1v1h-1zM1117 154h3v1h-3zM1152 154h4v1h-4zM1206 154h1v1h-1zM1083 155h1v1h-1zM1120 155h2v1h-2zM1132 155h20v1h-20zM1207 155h1v1h-1zM1082 156h1v1h-1zM1122 156h3v1h-3zM1128 156h4v1h-4zM1208 156h1v1h-1zM1081 157h1v1h-1zM1125 157h3v1h-3zM1209 157h1v1h-1zM1080 158h1v1h-1zM1210 158h1v2h-1zM1079 159h1v1h-1zM1078 160h1v1h-1zM1211 160h1v1h-1zM1076 161h2v1h-2zM1212 161h1v1h-1zM1075 162h1v1h-1zM1213 162h1v1h-1zM1074 163h1v1h-1zM1214 163h1v1h-1zM1072 164h2v1h-2zM1215 164h1v2h-1zM1071 165h1v1h-1zM1029 166h13v1h-13zM1068 166h3v1h-3zM1216 166h1v1h-1zM1026 167h3v1h-3zM1042 167h8v1h-8zM1064 167h4v1h-4zM1217 167h1v2h-1zM1024 168h2v1h-2zM1050 168h14v1h-14zM1020 169h4v1h-4zM1218 169h1v1h-1zM994 170h8v1h-8zM1016 170h4v1h-4zM1219 170h1v2h-1zM990 171h4v1h-4zM1002 171h14v1h-14zM988 172h2v1h-2zM1220 172h1v1h-1zM986 173h2v1h-2zM1221 173h1v2h-1zM985 174h1v1h-1zM983 175h2v1h-2zM1222 175h1v1h-1zM980 176h3v1h-3zM1223 176h1v1h-1zM976 177h4v1h-4zM1224 177h1v1h-1zM974 178h2v1h-2zM1225 178h1v1h-1zM973 179h1v1h-1zM1226 179h2v1h-2zM972 180h1v1h-1zM1228 180h1v1h-1zM970 181h2v1h-2zM1229 181h1v1h-1zM969 182h1v1h-1zM1230 182h1v1h-1zM968 183h1v1h-1zM1231 183h1v2h-1zM967 184h1v1h-1zM966 185h1v1h-1zM1232 185h1v2h-1zM965 186h1v1h-1zM964 187h1v2h-1zM1233 187h1v2h-1zM963 189h1v1h-1zM1234 189h1v1h-1zM1406 189h1v1h-1zM962 190h1v1h-1zM1235 190h1v2h-1zM1405 190h1v1h-1zM961 191h1v1h-1zM1404 191h1v1h-1zM960 192h1v2h-1zM1236 192h1v2h-1zM1402 192h2v1h-2zM1401 193h1v1h-1zM959 194h1v1h-1zM1237 194h1v2h-1zM1400 194h1v1h-1zM958 195h1v1h-1zM1399 195h1v1h-1zM957 196h1v2h-1zM1238 196h1v1h-1zM1398 196h1v1h-1zM1239 197h1v1h-1zM1397 197h1v1h-1zM956 198h1v2h-1zM1240 198h1v2h-1zM1396 198h1v1h-1zM1395 199h1v1h-1zM955 200h1v1h-1zM1241 200h1v1h-1zM1394 200h1v1h-1zM954 201h1v2h-1zM1242 201h1v1h-1zM1393 201h1v1h-1zM1243 202h1v1h-1zM1392 202h1v1h-1zM953 203h1v1h-1zM1244 203h1v2h-1zM1391 203h1v1h-1zM952 204h1v2h-1zM1388 204h3v1h-3zM1245 205h1v1h-1zM1384 205h4v1h-4zM951 206h1v2h-1zM1246 206h1v1h-1zM1381 206h3v1h-3zM1247 207h2v1h-2zM1379 207h2v1h-2zM950 208h1v1h-1zM1249 208h1v1h-1zM1377 208h2v1h-2zM949 209h1v2h-1zM1250 209h2v1h-2zM1375 209h2v1h-2zM1252 210h2v1h-2zM1356 210h19v1h-19zM948 211h1v2h-1zM1254 211h4v1h-4zM1352 211h4v1h-4zM1258 212h8v1h-8zM1346 212h6v1h-6zM947 213h1v2h-1zM1266 213h8v1h-8zM1338 213h8v1h-8zM1274 214h6v1h-6zM1322 214h16v1h-16zM946 215h1v1h-1zM1280 215h4v1h-4zM1316 215h6v1h-6zM945 216h1v2h-1zM1284 216h6v1h-6zM1312 216h4v1h-4zM1290 217h22v1h-22zM944 218h1v2h-1zM943 220h1v2h-1zM942 222h1v1h-1zM941 223h1v2h-1zM940 225h1v2h-1zM939 227h1v2h-1zM938 229h1v1h-1zM937 230h1v2h-1zM936 232h1v2h-1zM935 234h1v2h-1zM934 236h1v2h-1zM933 238h1v2h-1zM932 240h1v3h-1zM931 243h1v3h-1zM930 246h1v2h-1zM929 248h1v3h-1zM928 251h1v3h-1zM927 254h1v2h-1zM926 256h1v3h-1zM925 259h1v2h-1zM924 261h1v2h-1zM923 263h1v3h-1zM922 266h1v2h-1zM921 268h1v3h-1zM920 271h1v2h-1zM919 273h1v2h-1zM918 275h1v3h-1zM917 278h1v2h-1zM916 280h1v2h-1zM915 282h1v2h-1zM914 284h1v2h-1zM913 286h1v2h-1zM912 288h1v2h-1zM911 290h1v2h-1zM910 292h1v2h-1zM909 294h1v2h-1zM908 296h1v2h-1zM907 298h1v2h-1zM906 300h1v3h-1zM905 303h1v2h-1zM904 305h1v2h-1zM903 307h1v2h-1zM902 309h1v2h-1zM901 311h1v2h-1zM900 313h1v2h-1zM899 315h1v2h-1zM898 317h1v1h-1zM897 318h1v2h-1zM896 320h1v2h-1zM895 322h1v2h-1zM894 324h1v1h-1zM893 325h1v1h-1zM892 326h1v1h-1zM891 327h1v1h-1zM890 328h1v2h-1zM889 330h1v1h-1zM888 331h1v1h-1zM887 332h1v1h-1zM886 333h1v1h-1zM885 334h1v2h-1zM884 336h1v1h-1zM883 337h1v2h-1zM882 339h1v1h-1zM881 340h1v2h-1zM880 342h1v1h-1zM879 343h1v2h-1zM878 345h1v1h-1zM877 346h1v2h-1zM876 348h1v2h-1zM875 350h1v2h-1zM874 352h1v2h-1zM873 354h1v2h-1zM872 356h1v2h-1zM871 358h1v2h-1zM870 360h1v1h-1zM869 361h1v2h-1zM868 363h1v2h-1zM867 365h1v1h-1zM866 366h1v2h-1zM865 368h1v1h-1zM864 369h1v2h-1zM863 371h1v2h-1zM862 373h1v1h-1zM861 374h1v2h-1zM860 376h1v1h-1zM859 377h1v2h-1zM858 379h1v1h-1zM857 380h1v2h-1zM856 382h1v1h-1zM855 383h1v2h-1zM724 384h11v1h-11zM720 385h4v1h-4zM735 385h2v1h-2zM853 385h2v1h-2zM716 386h4v1h-4zM737 386h2v1h-2zM851 386h2v1h-2zM662 387h12v1h-12zM712 387h4v1h-4zM739 387h2v1h-2zM849 387h2v1h-2zM660 388h2v1h-2zM674 388h38v1h-38zM741 388h3v1h-3zM847 388h2v1h-2zM604 389h12v1h-12zM658 389h2v1h-2zM744 389h4v1h-4zM842 389h5v1h-5zM600 390h4v1h-4zM616 390h4v1h-4zM657 390h1v1h-1zM748 390h4v1h-4zM770 390h6v1h-6zM834 390h8v1h-8zM598 391h2v1h-2zM620 391h14v1h-14zM655 391h2v1h-2zM752 391h4v1h-4zM762 391h8v1h-8zM776 391h4v1h-4zM830 391h4v1h-4zM597 392h1v1h-1zM634 392h21v1h-21zM756 392h6v1h-6zM780 392h4v1h-4zM828 392h2v1h-2zM596 393h1v2h-1zM784 393h4v1h-4zM812 393h4v1h-4zM826 393h2v1h-2zM788 394h14v1h-14zM808 394h4v1h-4zM816 394h2v1h-2zM825 394h1v1h-1zM595 395h1v1h-1zM802 395h6v1h-6zM818 395h3v1h-3zM823 395h2v1h-2zM594 396h1v1h-1zM821 396h2v1h-2zM593 397h1v1h-1zM592 398h1v2h-1zM591 400h1v1h-1zM590 401h1v1h-1zM589 402h1v1h-1zM588 403h1v1h-1zM587 404h1v1h-1zM586 405h1v2h-1zM585 407h1v1h-1zM584 408h1v1h-1zM583 409h1v1h-1zM582 410h1v1h-1zM581 411h1v1h-1zM580 412h1v1h-1zM579 413h1v1h-1zM578 414h1v2h-1zM577 416h1v1h-1zM576 417h1v1h-1zM575 418h1v1h-1zM574 419h1v1h-1zM573 420h1v1h-1zM572 421h1v1h-1zM571 422h1v1h-1zM570 423h1v1h-1zM569 424h1v1h-1zM568 425h1v1h-1zM567 426h1v1h-1zM566 427h1v1h-1zM565 428h1v2h-1zM564 430h1v2h-1zM563 432h1v2h-1zM562 434h1v1h-1zM561 435h1v2h-1zM560 437h1v2h-1zM559 439h1v2h-1zM558 441h1v2h-1zM557 443h1v2h-1zM556 445h1v2h-1zM555 447h1v2h-1zM554 449h1v2h-1zM553 451h1v2h-1zM552 453h1v2h-1zM551 455h1v2h-1zM550 457h1v2h-1zM549 459h1v3h-1zM548 462h1v2h-1zM547 464h1v3h-1zM546 467h1v3h-1zM545 470h1v3h-1zM544 473h1v2h-1zM543 475h1v3h-1zM542 478h1v3h-1zM541 481h1v2h-1zM540 483h1v2h-1zM539 485h1v3h-1zM538 488h1v2h-1zM537 490h1v3h-1zM536 493h1v2h-1zM535 495h1v2h-1zM534 497h1v2h-1zM533 499h1v2h-1zM532 501h1v2h-1zM531 503h1v2h-1zM530 505h1v2h-1zM529 507h1v2h-1zM528 509h1v2h-1zM527 511h1v2h-1zM526 513h1v1h-1zM525 514h1v1h-1zM524 515h1v2h-1zM523 517h1v1h-1zM522 518h1v1h-1zM521 519h1v1h-1zM520 520h1v2h-1zM519 522h1v1h-1zM518 523h1v1h-1zM517 524h1v1h-1zM516 525h1v1h-1zM515 526h1v1h-1zM514 527h1v1h-1zM513 528h1v1h-1zM512 529h1v1h-1zM511 530h1v1h-1zM510 531h1v1h-1zM509 532h1v1h-1zM508 533h1v1h-1zM507 534h1v1h-1zM506 535h1v2h-1zM505 537h1v1h-1zM504 538h1v1h-1zM503 539h1v1h-1zM502 540h1v1h-1zM500 541h2v1h-2zM498 542h2v1h-2zM497 543h1v1h-1zM495 544h2v1h-2zM494 545h1v1h-1zM493 546h1v2h-1zM492 548h1v1h-1zM221 549h3v1h-3zM491 549h1v1h-1zM218 550h3v1h-3zM224 550h4v1h-4zM490 550h1v2h-1zM216 551h2v1h-2zM228 551h6v1h-6zM388 551h6v1h-6zM212 552h4v1h-4zM234 552h16v1h-16zM384 552h4v1h-4zM394 552h5v1h-5zM489 552h1v1h-1zM166 553h2v1h-2zM208 553h4v1h-4zM250 553h6v1h-6zM378 553h6v1h-6zM399 553h2v1h-2zM488 553h1v1h-1zM164 554h2v1h-2zM168 554h4v1h-4zM178 554h16v1h-16zM202 554h6v1h-6zM256 554h2v1h-2zM268 554h6v1h-6zM346 554h8v1h-8zM362 554h16v1h-16zM401 554h2v1h-2zM487 554h1v2h-1zM163 555h1v1h-1zM172 555h6v1h-6zM194 555h8v1h-8zM258 555h3v1h-3zM264 555h4v1h-4zM274 555h14v1h-14zM340 555h6v1h-6zM354 555h8v1h-8zM403 555h2v1h-2zM162 556h1v1h-1zM261 556h3v1h-3zM288 556h4v1h-4zM336 556h4v1h-4zM405 556h2v1h-2zM486 556h1v1h-1zM160 557h2v1h-2zM292 557h6v1h-6zM333 557h3v1h-3zM407 557h1v1h-1zM485 557h1v1h-1zM159 558h1v1h-1zM298 558h8v1h-8zM330 558h3v1h-3zM408 558h2v1h-2zM484 558h1v1h-1zM157 559h2v1h-2zM306 559h8v1h-8zM328 559h2v1h-2zM410 559h1v1h-1zM483 559h1v1h-1zM134 560h5v1h-5zM155 560h2v1h-2zM314 560h14v1h-14zM411 560h1v1h-1zM482 560h1v2h-1zM130 561h4v1h-4zM139 561h5v1h-5zM153 561h2v1h-2zM412 561h2v1h-2zM128 562h2v1h-2zM144 562h4v1h-4zM151 562h2v1h-2zM414 562h4v1h-4zM481 562h1v1h-1zM127 563h1v1h-1zM148 563h3v1h-3zM418 563h6v1h-6zM480 563h1v1h-1zM126 564h1v1h-1zM424 564h2v1h-2zM479 564h1v1h-1zM124 565h2v1h-2zM426 565h3v1h-3zM478 565h1v1h-1zM123 566h1v1h-1zM429 566h5v1h-5zM476 566h2v1h-2zM122 567h1v1h-1zM434 567h6v1h-6zM475 567h1v1h-1zM121 568h1v1h-1zM440 568h4v1h-4zM474 568h1v1h-1zM120 569h1v2h-1zM444 569h11v1h-11zM472 569h2v1h-2zM455 570h2v1h-2zM471 570h1v1h-1zM119 571h1v1h-1zM457 571h1v1h-1zM469 571h2v1h-2zM118 572h1v2h-1zM458 572h2v1h-2zM466 572h3v1h-3zM460 573h2v1h-2zM464 573h2v1h-2zM117 574h1v1h-1zM462 574h2v1h-2zM116 575h1v1h-1zM115 576h1v2h-1z" fill="#3cb371" shape-rendering="crispEdges"/>
<g shape-rendering="crispEdges">
<rect x="-2" y="404" width="1" height="37" fill="#000"/>
<rect x="-4" y="409" width="5" height="28" fill="#000"/>
<rect x="6" y="398" width="1" height="16" fill="#000"/>
<rect x="4" y="401" width="5" height="12" fill="#000"/>
<rect x="5" y="402" width="3" height="10" fill="#fff"/>
<rect x="14" y="401" width="1" height="52" fill="#000"/>
<rect x="12" y="401" width="5" height="44" fill="#000"/>
<rect x="22" y="439" width="1" height="47" fill="#000"/>
<rect x="20" y="444" width="5" height="2" fill="#000"/>
<rect x="30" y="441" width="1" height="55" fill="#000"/>
<rect x="28" y="446" width="5" height="30" fill="#000"/>
<rect x="38" y="470" width="1" height="58" fill="#000"/>
<rect x="36" y="475" width="5" height="43" fill="#000"/>
<rect x="46" y="513" width="1" height="34" fill="#000"/>
<rect x="44" y="518" width="5" height="14" fill="#000"/>
<rect x="54" y="528" width="1" height="6" fill="#000"/>
<rect x="52" y="528" width="5" height="6" fill="#000"/>
<rect x="62" y="521" width="1" height="28" fill="#000"/>
<rect x="60" y="533" width="5" height="4" fill="#000"/>
<rect x="70" y="485" width="1" height="55" fill="#000"/>
<rect x="68" y="498" width="5" height="39" fill="#000"/>
<rect x="69" y="499" width="3" height="37" fill="#fff"/>
<rect x="78" y="497" width="1" height="27" fill="#000"/>
<rect x="76" y="499" width="5" height="14" fill="#000"/>
<rect x="86" y="475" width="1" height="45" fill="#000"/>
<rect x="84" y="484" width="5" height="28" fill="#000"/>
<rect x="85" y="485" width="3" height="26" fill="#fff"/>
<rect x="94" y="481" width="1" height="4" fill="#000"/>
<rect x="92" y="481" width="5" height="3" fill="#000"/>
<rect x="102" y="469" width="1" height="31" fill="#000"/>
<rect x="100" y="483" width="5" height="6" fill="#000"/>
<rect x="110" y="460" width="1" height="31" fill="#000"/>
<rect x="108" y="462" width="5" height="27" fill="#000"/>
<rect x="109" y="463" width="3" height="25" fill="#fff"/>
<rect x="118" y="461" width="1" height="53" fill="#000"/>
<rect x="116" y="463" width="5" height="31" fill="#000"/>
<rect x="126" y="493" width="1" height="37" fill="#000"/>
<rect x="124" y="494" width="5" height="19" fill="#000"/>
<rect x="134" y="499" width="1" height="33" fill="#000"/>
<rect x="132" y="508" width="5" height="5" fill="#000"/>
<rect x="133" y="509" width="3" height="3" fill="#fff"/>
<rect x="142" y="507" width="1" height="3" fill="#000"/>
<rect x="140" y="508" width="5" height="2" fill="#000"/>
<rect x="150" y="497" width="1" height="23" fill="#000"/>
<rect x="148" y="510" width="5" height="1" fill="#000"/>
<rect x="158" y="504" width="1" height="25" fill="#000"/>
<rect x="156" y="510" width="5" height="4" fill="#000"/>
<rect x="166" y="501" width="1" height="34" fill="#000"/>
<rect x="164" y="513" width="5" height="21" fill="#000"/>
<rect x="174" y="517" width="1" height="37" fill="#000"/>
<rect x="172" y="533" width="5" height="14" fill="#000"/>
<rect x="182" y="528" width="1" height="38" fill="#000"/>
<rect x="180" y="537" width="5" height="10" fill="#000"/>
<rect x="181" y="538" width="3" height="8" fill="#fff"/>
<rect x="190" y="527" width="1" height="3" fill="#000"/>
<rect x="188" y="527" width="5" height="3" fill="#000"/>
<rect x="189" y="528" width="3" height="1" fill="#fff"/>
<rect x="198" y="512" width="1" height="20" fill="#000"/>
<rect x="196" y="526" width="5" height="2" fill="#000"/>
<rect x="206" y="500" width="1" height="33" fill="#000"/>
<rect x="204" y="524" width="5" height="3" fill="#000"/>
<rect x="205" y="525" width="3" height="1" fill="#fff"/>
<rect x="214" y="501" width="1" height="22" fill="#000"/>
<rect x="212" y="505" width="5" height="18" fill="#000"/>
<rect x="213" y="506" width="3" height="16" fill="#fff"/>
<rect x="222" y="467" width="1" height="56" fill="#000"/>
<rect x="220" y="478" width="5" height="28" fill="#000"/>
<rect x="221" y="479" width="3" height="26" fill="#fff"/>
<rect x="230" y="449" width="1" height="34" fill="#000"/>
<rect x="228" y="465" width="5" height="14" fill="#000"/>
<rect x="229" y="466" width="3" height="12" fill="#fff"/>
<rect x="238" y="471" width="1" height="4" fill="#000"/>
<rect x="236" y="471" width="5" height="3" fill="#000"/>
<rect x="237" y="472" width="3" height="1" fill="#fff"/>
<rect x="246" y="471" width="1" height="27" fill="#000"/>
<rect x="244" y="471" width="5" height="24" fill="#000"/>
<rect x="254" y="485" width="1" height="41" fill="#000"/>
<rect x="252" y="494" width="5" height="27" fill="#000"/>
<rect x="262" y="518" width="1" height="26" fill="#000"/>
<rect x="260" y="520" width="5" height="17" fill="#000"/>
<rect x="270" y="519" width="1" height="31" fill="#000"/>
<rect x="268" y="521" width="5" height="15" fill="#000"/>
<rect x="269" y="522" width="3" height="13" fill="#fff"/>
<rect x="278" y="505" width="1" height="25" fill="#000"/>
<rect x="276" y="519" width="5" height="3" fill="#000"/>
<rect x="277" y="520" width="3" height="1" fill="#fff"/>
<rect x="286" y="520" width="1" height="5" fill="#000"/>
<rect x="284" y="520" width="5" height="3" fill="#000"/>
<rect x="285" y="521" width="3" height="1" fill="#fff"/>
<rect x="294" y="515" width="1" height="21" fill="#000"/>
<rect x="292" y="521" width="5" height="12" fill="#000"/>
<rect x="302" y="501" width="1" height="42" fill="#000"/>
<rect x="300" y="517" width="5" height="15" fill="#000"/>
<rect x="301" y="518" width="3" height="13" fill="#fff"/>
<rect x="310" y="497" width="1" height="35" fill="#000"/>
<rect x="308" y="518" width="5" height="10" fill="#000"/>
<rect x="318" y="526" width="1" height="21" fill="#000"/>
<rect x="316" y="527" width="5" height="7" fill="#000"/>
<rect x="326" y="515" width="1" height="26" fill="#000"/>
<rect x="324" y="531" width="5" height="3" fill="#000"/>
<rect x="325" y="532" width="3" height="1" fill="#fff"/>
<rect x="334" y="526" width="1" height="2" fill="#000"/>
<rect x="332" y="527" width="5" height="1" fill="#000"/>
<rect x="342" y="485" width="1" height="51" fill="#000"/>
<rect x="340" y="490" width="5" height="38" fill="#000"/>
<rect x="341" y="491" width="3" height="36" fill="#fff"/>
<rect x="350" y="465" width="1" height="31" fill="#000"/>
<rect x="348" y="486" width="5" height="4" fill="#000"/>
<rect x="349" y="487" width="3" height="2" fill="#fff"/>
<rect x="358" y="456" width="1" height="29" fill="#000"/>
<rect x="356" y="464" width="5" height="21" fill="#000"/>
<rect x="357" y="465" width="3" height="19" fill="#fff"/>
<rect x="366" y="452" width="1" height="30" fill="#000"/>
<rect x="364" y="464" width="5" height="12" fill="#000"/>
<rect x="374" y="474" width="1" height="28" fill="#000"/>
<rect x="372" y="476" width="5" height="22" fill="#000"/>
<rect x="382" y="492" width="1" height="4" fill="#000"/>
<rect x="380" y="493" width="5" height="2" fill="#000"/>
<rect x="390" y="490" width="1" height="18" fill="#000"/>
<rect x="388" y="492" width="5" height="4" fill="#000"/>
<rect x="398" y="457" width="1" height="41" fill="#000"/>
<rect x="396" y="464" width="5" height="31" fill="#000"/>
<rect x="397" y="465" width="3" height="29" fill="#fff"/>
<rect x="406" y="443" width="1" height="40" fill="#000"/>
<rect x="404" y="449" width="5" height="15" fill="#000"/>
<rect x="405" y="450" width="3" height="13" fill="#fff"/>
<rect x="414" y="418" width="1" height="42" fill="#000"/>
<rect x="412" y="426" width="5" height="24" fill="#000"/>
<rect x="413" y="427" width="3" height="22" fill="#fff"/>
<rect x="422" y="398" width="1" height="30" fill="#000"/>
<rect x="420" y="416" width="5" height="10" fill="#000"/>
<rect x="421" y="417" width="3" height="8" fill="#fff"/>
<rect x="430" y="408" width="1" height="4" fill="#000"/>
<rect x="428" y="409" width="5" height="3" fill="#000"/>
<rect x="429" y="410" width="3" height="1" fill="#fff"/>
<rect x="438" y="394" width="1" height="23" fill="#000"/>
<rect x="436" y="407" width="5" height="4" fill="#000"/>
<rect x="437" y="408" width="3" height="2" fill="#fff"/>
<rect x="446" y="378" width="1" height="33" fill="#000"/>
<rect x="444" y="383" width="5" height="23" fill="#000"/>
<rect x="445" y="384" width="3" height="21" fill="#fff"/>
<rect x="454" y="353" width="1" height="32" fill="#000"/>
<rect x="452" y="362" width="5" height="21" fill="#000"/>
<rect x="453" y="363" width="3" height="19" fill="#fff"/>
<rect x="462" y="311" width="1" height="68" fill="#000"/>
<rect x="460" y="322" width="5" height="40" fill="#000"/>
<rect x="461" y="323" width="3" height="38" fill="#fff"/>
<rect x="470" y="303" width="1" height="42" fill="#000"/>
<rect x="468" y="322" width="5" height="18" fill="#000"/>
<rect x="478" y="328" width="1" height="9" fill="#000"/>
<rect x="476" y="330" width="5" height="6" fill="#000"/>
<rect x="477" y="331" width="3" height="4" fill="#fff"/>
<rect x="486" y="329" width="1" height="21" fill="#000"/>
<rect x="484" y="331" width="5" height="4" fill="#000"/>
<rect x="494" y="310" width="1" height="50" fill="#000"/>
<rect x="492" y="323" width="5" height="11" fill="#000"/>
<rect x="493" y="324" width="3" height="9" fill="#fff"/>
<rect x="502" y="287" width="1" height="41" fill="#000"/>
<rect x="500" y="309" width="5" height="14" fill="#000"/>
<rect x="501" y="310" width="3" height="12" fill="#fff"/>
<rect x="510" y="295" width="1" height="47" fill="#000"/>
<rect x="508" y="309" width="5" height="33" fill="#000"/>
<rect x="518" y="320" width="1" height="52" fill="#000"/>
<rect x="516" y="341" width="5" height="24" fill="#000"/>
<rect x="526" y="353" width="1" height="7" fill="#000"/>
<rect x="524" y="355" width="5" height="3" fill="#000"/>
<rect x="525" y="356" width="3" height="1" fill="#fff"/>
<rect x="534" y="321" width="1" height="45" fill="#000"/>
<rect x="532" y="321" width="5" height="35" fill="#000"/>
<rect x="533" y="322" width="3" height="33" fill="#fff"/>
<rect x="542" y="315" width="1" height="51" fill="#000"/>
<rect x="540" y="321" width="5" height="30" fill="#000"/>
<rect x="550" y="338" width="1" height="36" fill="#000"/>
<rect x="548" y="350" width="5" height="10" fill="#000"/>
<rect x="558" y="351" width="1" height="32" fill="#000"/>
<rect x="556" y="360" width="5" height="14" fill="#000"/>
<rect x="566" y="354" width="1" height="36" fill="#000"/>
<rect x="564" y="373" width="5" height="10" fill="#000"/>
<rect x="574" y="383" width="1" height="6" fill="#000"/>
<rect x="572" y="384" width="5" height="1" fill="#000"/>
<rect x="582" y="344" width="1" height="42" fill="#000"/>
<rect x="580" y="345" width="5" height="41" fill="#000"/>
<rect x="581" y="346" width="3" height="39" fill="#fff"/>
<rect x="590" y="317" width="1" height="47" fill="#000"/>
<rect x="588" y="331" width="5" height="14" fill="#000"/>
<rect x="589" y="332" width="3" height="12" fill="#fff"/>
<rect x="598" y="326" width="1" height="32" fill="#000"/>
<rect x="596" y="331" width="5" height="26" fill="#000"/>
<rect x="606" y="352" width="1" height="29" fill="#000"/>
<rect x="604" y="356" width="5" height="14" fill="#000"/>
<rect x="614" y="360" width="1" height="19" fill="#000"/>
<rect x="612" y="365" width="5" height="5" fill="#000"/>
<rect x="613" y="366" width="3" height="3" fill="#fff"/>
<rect x="622" y="364" width="1" height="5" fill="#000"/>
<rect x="620" y="366" width="5" height="2" fill="#000"/>
<rect x="630" y="341" width="1" height="28" fill="#000"/>
<rect x="628" y="358" width="5" height="10" fill="#000"/>
<rect x="629" y="359" width="3" height="8" fill="#fff"/>
<rect x="638" y="351" width="1" height="29" fill="#000"/>
<rect x="636" y="358" width="5" height="6" fill="#000"/>
<rect x="646" y="346" width="1" height="37" fill="#000"/>
<rect x="644" y="357" width="5" height="7" fill="#000"/>
<rect x="645" y="358" width="3" height="5" fill="#fff"/>
<rect x="654" y="335" width="1" height="33" fill="#000"/>
<rect x="652" y="356" width="5" height="6" fill="#000"/>
<rect x="662" y="356" width="1" height="13" fill="#000"/>
<rect x="660" y="358" width="5" height="4" fill="#000"/>
<rect x="661" y="359" width="3" height="2" fill="#fff"/>
<rect x="670" y="357" width="1" height="2" fill="#000"/>
<rect x="668" y="358" width="5" height="1" fill="#000"/>
<rect x="678" y="318" width="1" height="40" fill="#000"/>
<rect x="676" y="331" width="5" height="27" fill="#000"/>
<rect x="677" y="332" width="3" height="25" fill="#fff"/>
<rect x="686" y="324" width="1" height="29" fill="#000"/>
<rect x="684" y="331" width="5" height="16" fill="#000"/>
<rect x="694" y="315" width="1" height="37" fill="#000"/>
<rect x="692" y="321" width="5" height="26" fill="#000"/>
<rect x="693" y="322" width="3" height="24" fill="#fff"/>
<rect x="702" y="308" width="1" height="37" fill="#000"/>
<rect x="700" y="321" width="5" height="21" fill="#000"/>
<rect x="710" y="326" width="1" height="29" fill="#000"/>
<rect x="708" y="338" width="5" height="4" fill="#000"/>
<rect x="709" y="339" width="3" height="2" fill="#fff"/>
<rect x="718" y="329" width="1" height="5" fill="#000"/>
<rect x="716" y="330" width="5" height="4" fill="#000"/>
<rect x="726" y="306" width="1" height="31" fill="#000"/>
<rect x="724" y="318" width="5" height="15" fill="#000"/>
<rect x="725" y="319" width="3" height="13" fill="#fff"/>
<rect x="734" y="291" width="1" height="36" fill="#000"/>
<rect x="732" y="292" width="5" height="26" fill="#000"/>
<rect x="733" y="293" width="3" height="24" fill="#fff"/>
<rect x="742" y="275" width="1" height="26" fill="#000"/>
<rect x="740" y="289" width="5" height="3" fill="#000"/>
<rect x="741" y="290" width="3" height="1" fill="#fff"/>
<rect x="750" y="279" width="1" height="30" fill="#000"/>
<rect x="748" y="289" width="5" height="13" fill="#000"/>
<rect x="758" y="279" width="1" height="27" fill="#000"/>
<rect x="756" y="281" width="5" height="21" fill="#000"/>
<rect x="757" y="282" width="3" height="19" fill="#fff"/>
<rect x="766" y="279" width="1" height="4" fill="#000"/>
<rect x="764" y="280" width="5" height="3" fill="#000"/>
<rect x="765" y="281" width="3" height="1" fill="#fff"/>
<rect x="774" y="269" width="1" height="27" fill="#000"/>
<rect x="772" y="274" width="5" height="6" fill="#000"/>
<rect x="773" y="275" width="3" height="4" fill="#fff"/>
<rect x="782" y="239" width="1" height="49" fill="#000"/>
<rect x="780" y="242" width="5" height="32" fill="#000"/>
<rect x="781" y="243" width="3" height="30" fill="#fff"/>
<rect x="790" y="216" width="1" height="38" fill="#000"/>
<rect x="788" y="230" width="5" height="12" fill="#000"/>
<rect x="789" y="231" width="3" height="10" fill="#fff"/>
<rect x="798" y="206" width="1" height="35" fill="#000"/>
<rect x="796" y="218" width="5" height="12" fill="#000"/>
<rect x="797" y="219" width="3" height="10" fill="#fff"/>
<rect x="806" y="197" width="1" height="28" fill="#000"/>
<rect x="804" y="202" width="5" height="16" fill="#000"/>
<rect x="805" y="203" width="3" height="14" fill="#fff"/>
<rect x="814" y="194" width="1" height="6" fill="#000"/>
<rect x="812" y="195" width="5" height="3" fill="#000"/>
<rect x="822" y="144" width="1" height="54" fill="#000"/>
<rect x="820" y="150" width="5" height="47" fill="#000"/>
<rect x="821" y="151" width="3" height="45" fill="#fff"/>
<rect x="830" y="147" width="1" height="31" fill="#000"/>
<rect x="828" y="150" width="5" height="20" fill="#000"/>
<rect x="838" y="134" width="1" height="38" fill="#000"/>
<rect x="836" y="145" width="5" height="25" fill="#000"/>
<rect x="837" y="146" width="3" height="23" fill="#fff"/>
<rect x="846" y="106" width="1" height="59" fill="#000"/>
<rect x="844" y="108" width="5" height="37" fill="#000"/>
<rect x="845" y="109" width="3" height="35" fill="#fff"/>
<rect x="854" y="93" width="1" height="60" fill="#000"/>
<rect x="852" y="108" width="5" height="34" fill="#000"/>
<rect x="862" y="138" width="1" height="9" fill="#000"/>
<rect x="860" y="139" width="5" height="6" fill="#000"/>
<rect x="870" y="141" width="1" height="38" fill="#000"/>
<rect x="868" y="145" width="5" height="8" fill="#000"/>
<rect x="878" y="132" width="1" height="37" fill="#000"/>
<rect x="876" y="132" width="5" height="20" fill="#000"/>
<rect x="877" y="133" width="3" height="18" fill="#fff"/>
<rect x="886" y="95" width="1" height="43" fill="#000"/>
<rect x="884" y="108" width="5" height="24" fill="#000"/>
<rect x="885" y="109" width="3" height="22" fill="#fff"/>
<rect x="894" y="90" width="1" height="40" fill="#000"/>
<rect x="892" y="106" width="5" height="3" fill="#000"/>
<rect x="893" y="107" width="3" height="1" fill="#fff"/>
<rect x="902" y="104" width="1" height="51" fill="#000"/>
<rect x="900" y="106" width="5" height="39" fill="#000"/>
<rect x="910" y="144" width="1" height="3" fill="#000"/>
<rect x="908" y="144" width="5" height="3" fill="#000"/>
<rect x="909" y="145" width="3" height="1" fill="#fff"/>
<rect x="918" y="136" width="1" height="26" fill="#000"/>
<rect x="916" y="144" width="5" height="18" fill="#000"/>
<rect x="926" y="134" width="1" height="35" fill="#000"/>
<rect x="924" y="162" width="5" height="2" fill="#000"/>
<rect x="934" y="130" width="1" height="43" fill="#000"/>
<rect x="932" y="139" width="5" height="23" fill="#000"/>
<rect x="933" y="140" width="3" height="21" fill="#fff"/>
<rect x="942" y="111" width="1" height="29" fill="#000"/>
<rect x="940" y="130" width="5" height="10" fill="#000"/>
<rect x="941" y="131" width="3" height="8" fill="#fff"/>
<rect x="950" y="116" width="1" height="29" fill="#000"/>
<rect x="948" y="122" width="5" height="8" fill="#000"/>
<rect x="949" y="123" width="3" height="6" fill="#fff"/>
<rect x="958" y="115" width="1" height="6" fill="#000"/>
<rect x="956" y="116" width="5" height="5" fill="#000"/>
<rect x="957" y="117" width="3" height="3" fill="#fff"/>
<rect x="966" y="104" width="1" height="22" fill="#000"/>
<rect x="964" y="107" width="5" height="9" fill="#000"/>
<rect x="965" y="108" width="3" height="7" fill="#fff"/>
<rect x="974" y="70" width="1" height="37" fill="#000"/>
<rect x="972" y="78" width="5" height="29" fill="#000"/>
<rect x="973" y="79" width="3" height="27" fill="#fff"/>
<rect x="982" y="76" width="1" height="49" fill="#000"/>
<rect x="980" y="78" width="5" height="41" fill="#000"/>
<rect x="990" y="108" width="1" height="29" fill="#000"/>
<rect x="988" y="110" width="5" height="9" fill="#000"/>
<rect x="989" y="111" width="3" height="7" fill="#fff"/>
<rect x="998" y="103" width="1" height="53" fill="#000"/>
<rect x="996" y="109" width="5" height="32" fill="#000"/>
<rect x="1006" y="134" width="1" height="5" fill="#000"/>
<rect x="1004" y="136" width="5" height="2" fill="#000"/>
<rect x="1014" y="117" width="1" height="27" fill="#000"/>
<rect x="1012" y="137" width="5" height="2" fill="#000"/>
<rect x="1022" y="119" width="1" height="25" fill="#000"/>
<rect x="1020" y="124" width="5" height="15" fill="#000"/>
<rect x="1021" y="125" width="3" height="13" fill="#fff"/>
<rect x="1030" y="120" width="1" height="29" fill="#000"/>
<rect x="1028" y="122" width="5" height="3" fill="#000"/>
<rect x="1029" y="123" width="3" height="1" fill="#fff"/>
<rect x="1038" y="96" width="1" height="57" fill="#000"/>
<rect x="1036" y="120" width="5" height="8" fill="#000"/>
<rect x="1046" y="89" width="1" height="44" fill="#000"/>
<rect x="1044" y="100" width="5" height="29" fill="#000"/>
<rect x="1045" y="101" width="3" height="27" fill="#fff"/>
<rect x="1054" y="89" width="1" height="7" fill="#000"/>
<rect x="1052" y="90" width="5" height="3" fill="#000"/>
<rect x="1053" y="91" width="3" height="1" fill="#fff"/>
<rect x="1062" y="70" width="1" height="34" fill="#000"/>
<rect x="1060" y="82" width="5" height="8" fill="#000"/>
<rect x="1061" y="83" width="3" height="6" fill="#fff"/>
<rect x="1070" y="52" width="1" height="45" fill="#000"/>
<rect x="1068" y="81" width="5" height="7" fill="#000"/>
<rect x="1078" y="87" width="1" height="42" fill="#000"/>
<rect x="1076" y="88" width="5" height="31" fill="#000"/>
<rect x="1086" y="111" width="1" height="31" fill="#000"/>
<rect x="1084" y="118" width="5" height="3" fill="#000"/>
<rect x="1094" y="110" width="1" height="35" fill="#000"/>
<rect x="1092" y="116" width="5" height="4" fill="#000"/>
<rect x="1093" y="117" width="3" height="2" fill="#fff"/>
<rect x="1102" y="119" width="1" height="5" fill="#000"/>
<rect x="1100" y="120" width="5" height="4" fill="#000"/>
<rect x="1110" y="117" width="1" height="16" fill="#000"/>
<rect x="1108" y="124" width="5" height="6" fill="#000"/>
<rect x="1118" y="126" width="1" height="29" fill="#000"/>
<rect x="1116" y="129" width="5" height="21" fill="#000"/>
<rect x="1126" y="123" width="1" height="33" fill="#000"/>
<rect x="1124" y="135" width="5" height="15" fill="#000"/>
<rect x="1125" y="136" width="3" height="13" fill="#fff"/>
<rect x="1134" y="90" width="1" height="47" fill="#000"/>
<rect x="1132" y="127" width="5" height="9" fill="#000"/>
<rect x="1133" y="128" width="3" height="7" fill="#fff"/>
<rect x="1142" y="107" width="1" height="20" fill="#000"/>
<rect x="1140" y="124" width="5" height="3" fill="#000"/>
<rect x="1141" y="125" width="3" height="1" fill="#fff"/>
<rect x="1150" y="118" width="1" height="4" fill="#000"/>
<rect x="1148" y="118" width="5" height="3" fill="#000"/>
<rect x="1158" y="102" width="1" height="23" fill="#000"/>
<rect x="1156" y="110" width="5" height="10" fill="#000"/>
<rect x="1157" y="111" width="3" height="8" fill="#fff"/>
<rect x="1166" y="97" width="1" height="25" fill="#000"/>
<rect x="1164" y="110" width="5" height="11" fill="#000"/>
<rect x="1174" y="104" width="1" height="38" fill="#000"/>
<rect x="1172" y="120" width="5" height="16" fill="#000"/>
<rect x="1182" y="114" width="1" height="48" fill="#000"/>
<rect x="1180" y="118" width="5" height="18" fill="#000"/>
<rect x="1181" y="119" width="3" height="16" fill="#fff"/>
<rect x="1190" y="108" width="1" height="19" fill="#000"/>
<rect x="1188" y="116" width="5" height="3" fill="#000"/>
<rect x="1189" y="117" width="3" height="1" fill="#fff"/>
<rect x="1198" y="117" width="1" height="3" fill="#000"/>
<rect x="1196" y="117" width="5" height="2" fill="#000"/>
<rect x="1206" y="108" width="1" height="56" fill="#000"/>
<rect x="1204" y="118" width="5" height="34" fill="#000"/>
<rect x="1214" y="148" width="1" height="32" fill="#000"/>
<rect x="1212" y="151" width="5" height="23" fill="#000"/>
<rect x="1222" y="169" width="1" height="28" fill="#000"/>
<rect x="1220" y="174" width="5" height="21" fill="#000"/>
<rect x="1230" y="182" width="1" height="24" fill="#000"/>
<rect x="1228" y="188" width="5" height="6" fill="#000"/>
<rect x="1229" y="189" width="3" height="4" fill="#fff"/>
<rect x="1238" y="182" width="1" height="29" fill="#000"/>
<rect x="1236" y="187" width="5" height="22" fill="#000"/>
<rect x="1246" y="202" width="1" height="3" fill="#000"/>
<rect x="1244" y="203" width="5" height="1" fill="#000"/>
<rect x="1254" y="184" width="1" height="27" fill="#000"/>
<rect x="1252" y="186" width="5" height="18" fill="#000"/>
<rect x="1253" y="187" width="3" height="16" fill="#fff"/>
<rect x="1262" y="158" width="1" height="33" fill="#000"/>
<rect x="1260" y="160" width="5" height="26" fill="#000"/>
<rect x="1261" y="161" width="3" height="24" fill="#fff"/>
<rect x="1270" y="156" width="1" height="26" fill="#000"/>
<rect x="1268" y="160" width="5" height="8" fill="#000"/>
<rect x="1278" y="150" width="1" height="21" fill="#000"/>
<rect x="1276" y="160" width="5" height="8" fill="#000"/>
<rect x="1277" y="161" width="3" height="6" fill="#fff"/>
<rect x="1286" y="159" width="1" height="20" fill="#000"/>
<rect x="1284" y="159" width="5" height="12" fill="#000"/>
<rect x="1294" y="168" width="1" height="4" fill="#000"/>
<rect x="1292" y="169" width="5" height="2" fill="#000"/>
<rect x="1302" y="138" width="1" height="32" fill="#000"/>
<rect x="1300" y="141" width="5" height="28" fill="#000"/>
<rect x="1301" y="142" width="3" height="26" fill="#fff"/>
<rect x="1310" y="134" width="1" height="31" fill="#000"/>
<rect x="1308" y="141" width="5" height="22" fill="#000"/>
<rect x="1318" y="145" width="1" height="22" fill="#000"/>
<rect x="1316" y="151" width="5" height="11" fill="#000"/>
<rect x="1317" y="152" width="3" height="9" fill="#fff"/>
<rect x="1326" y="144" width="1" height="20" fill="#000"/>
<rect x="1324" y="151" width="5" height="1" fill="#000"/>
<rect x="1334" y="124" width="1" height="28" fill="#000"/>
<rect x="1332" y="126" width="5" height="25" fill="#000"/>
<rect x="1333" y="127" width="3" height="23" fill="#fff"/>
<rect x="1342" y="128" width="1" height="5" fill="#000"/>
<rect x="1340" y="130" width="5" height="1" fill="#000"/>
<rect x="1350" y="126" width="1" height="17" fill="#000"/>
<rect x="1348" y="130" width="5" height="2" fill="#000"/>
<rect x="1358" y="131" width="1" height="34" fill="#000"/>
<rect x="1356" y="131" width="5" height="30" fill="#000"/>
<rect x="1366" y="148" width="1" height="21" fill="#000"/>
<rect x="1364" y="159" width="5" height="2" fill="#000"/>
<rect x="1374" y="156" width="1" height="26" fill="#000"/>
<rect x="1372" y="160" width="5" height="15" fill="#000"/>
<rect x="1382" y="158" width="1" height="22" fill="#000"/>
<rect x="1380" y="169" width="5" height="6" fill="#000"/>
<rect x="1381" y="170" width="3" height="4" fill="#fff"/>
<rect x="1390" y="168" width="1" height="7" fill="#000"/>
<rect x="1388" y="172" width="5" height="2" fill="#000"/>
<rect x="1398" y="139" width="1" height="37" fill="#000"/>
<rect x="1396" y="149" width="5" height="21" fill="#000"/>
<rect x="1397" y="150" width="3" height="19" fill="#fff"/>
<rect x="1406" y="120" width="1" height="29" fill="#000"/>
<rect x="1404" y="126" width="5" height="23" fill="#000"/>
<rect x="1405" y="127" width="3" height="21" fill="#fff"/>
</g>
<polyline fill="none" shape-rendering="crispEdges" stroke="#ff0000" stroke-width="1" stroke-dasharray="3 3" points="0,724.2 6,726.2 13,726.6 19,724.8 25,722.2 30,718.2 36,714.8 42.1,712.2 48.1,709.8 54.1,708.2 60.1,707.4 66.1,707.4 72.1,708.8 78.1,710.6 84.1,712.2 90.1,713.6 96.1,714.6 102.1,715.4 109.1,715.4 116.1,714.6 124.1,713.8 130.2,712.8 136.2,711.2 142.2,710 148.2,708.6 154.2,707.8 160.2,707.6 168.2,707.6 174.2,708.4 180.2,709.6 186.2,710.8 192.2,711.8 198.2,712.6 206.2,713.2 214.3,713.2 222.3,712.4 230.3,711.2 238.3,709.8 244.3,707.2 250.3,705.2 256.3,702.6 264.3,700.8 270.3,699.5 276.3,697.9 282.3,696.7 288.3,696.3 296.4,696.5 304.4,697.1 310.4,698.5 318.4,699.7 326.4,701.2 334.4,701.6 344,701.6 347,701.6 354,700.4 361,698.3 367,697.1 373,694.7 379,693.3 385,691.5 391.1,690.3 397.1,688.3 403.1,685.1 408.1,682.5 414.1,679.1 420.1,676.1 426.1,673.1 432.1,670.5 438.1,667.1 445.1,663.7 450.1,660.1 456.1,655.7 462.1,651.7 468.1,646.1 474.2,640.5 480.2,635.7 486.2,631.7 492.2,626.5 498.2,622.7 504.2,619.5 510.2,615.8 516.2,613.2 522.2,612.2 528.2,611.6 534.2,611.6 541.2,612.4 547.2,613.2 553.3,615.6 559.3,617.5 565.3,620.5 570.3,623.3 576.3,627.7 582.3,631.3 588.3,634.1 594.3,637.1 601.3,640.1 607.3,643.5 613.3,646.5 619.3,649.5 625.3,652.7 631.3,654.5 637.4,655.7 643.4,657.5 648.4,658.1 654.4,660.5 660.4,662.5 666.4,664.5 672.4,665.5 678.4,666.3 684.4,667.1 688,668.5 696,668.5 706,668.5 716,668.3 722,668.1 728,667.3 734.1,666.3 740.1,665.3 746.1,664.3 752.1,663.1 758.1,661.3 764.1,660.5 770.1,658.3 776.1,656.5 782.1,654.7 788.1,652.1 794.1,648.7 800.1,645.7 806.1,643.1 812.1,640.1 818.2,637.1 824.2,632.1 830.2,628.7 836.2,624.7 842.2,620.1 848.2,615 854.2,611 860.2,607.6 866.2,604.6 872.2,601.4 878.2,599 884.2,596.2 890.2,594 896.2,593.4 903.3,593.4 910.3,593.4 916.3,595.2 922.3,597 928.3,599.8 934.3,602.4 940.3,605 946.3,607 952.3,610.2 958.3,613 964.3,615.6 970.3,616.9 976.3,619.5 982.4,622.1 988.4,623.1 994.4,623.9 1000.4,626.1 1006.4,628.1 1012.4,630.1 1018.4,631.5 1024.4,634.3 1032,637.5 1032,636.7 1039,639.5 1045,641.7 1051,644.1 1057,646.1 1062,647.5 1069,648.5 1075.1,649.5 1081.1,650.5 1087.1,651.3 1092.1,652.1 1098.1,652.5 1104.1,654.1 1110.1,655.5 1116.1,656.5 1122.1,658.7 1128.1,661.1 1134.1,663.3 1140.1,666.1 1146.1,668.3 1152.1,670.7 1158.2,672.5 1164.2,673.5 1170.2,675.1 1176.2,676.3 1182.2,678.5 1188.2,679.3 1194.2,679.5 1200.2,679.5 1206.2,680.3 1212.2,681.5 1218.2,683.3 1224.2,685.1 1230.2,687.5 1236.2,690.1 1242.3,693.5 1248.3,696.7 1254.3,700.2 1260.3,703.2 1266.3,705.8 1272.3,708.4 1278.3,710.6 1284.3,712 1290.3,713.2 1296.3,713.6 1302.3,713.4 1308.3,712 1314.3,710.6 1320.3,708.8 1326.4,707.4 1332,705.5 1338,703 1344.5,700.5 1350.5,698.5 1356.5,696.8 1362.5,695.4 1368.5,693.8 1374.5,692.4 1380.5,691.6 1386.5,691.5 1392.5,691.5 1398.5,691.5 1406,690.5"/>
<path d="M822 781h1v1h-1zM821 782h1v1h-1zM823 782h1v2h-1zM820 783h1v1h-1zM819 784h1v1h-1zM824 784h1v2h-1zM818 785h1v1h-1zM846 785h1v2h-1zM462 786h1v1h-1zM817 786h1v1h-1zM825 786h1v1h-1zM844 786h2v1h-2zM461 787h1v1h-1zM463 787h1v1h-1zM816 787h1v1h-1zM826 787h1v2h-1zM842 787h2v1h-2zM847 787h1v2h-1zM460 788h1v1h-1zM464 788h1v2h-1zM815 788h1v1h-1zM841 788h1v1h-1zM458 789h2v1h-2zM810 789h5v1h-5zM827 789h1v1h-1zM839 789h2v1h-2zM848 789h1v2h-1zM457 790h1v1h-1zM465 790h1v1h-1zM805 790h5v1h-5zM828 790h1v2h-1zM837 790h2v1h-2zM456 791h1v1h-1zM466 791h1v1h-1zM803 791h2v1h-2zM835 791h2v1h-2zM849 791h1v2h-1zM455 792h1v1h-1zM467 792h1v1h-1zM501 792h2v1h-2zM801 792h2v1h-2zM829 792h1v2h-1zM833 792h2v1h-2zM454 793h1v1h-1zM468 793h1v2h-1zM498 793h3v1h-3zM502 793h1v1h-1zM799 793h2v1h-2zM831 793h2v1h-2zM850 793h1v2h-1zM452 794h2v1h-2zM496 794h2v1h-2zM503 794h1v2h-1zM797 794h2v1h-2zM830 794h1v1h-1zM450 795h2v1h-2zM469 795h1v1h-1zM474 795h6v1h-6zM493 795h3v1h-3zM794 795h3v1h-3zM851 795h1v2h-1zM449 796h1v1h-1zM470 796h4v1h-4zM480 796h2v1h-2zM490 796h3v1h-3zM504 796h1v3h-1zM792 796h2v1h-2zM447 797h2v1h-2zM482 797h3v1h-3zM488 797h2v1h-2zM789 797h3v1h-3zM852 797h1v2h-1zM446 798h1v1h-1zM485 798h3v1h-3zM786 798h3v1h-3zM890 798h5v1h-5zM444 799h2v1h-2zM505 799h1v2h-1zM784 799h2v1h-2zM853 799h1v2h-1zM885 799h5v1h-5zM894 799h1v1h-1zM443 800h1v1h-1zM782 800h2v1h-2zM883 800h2v1h-2zM895 800h1v2h-1zM442 801h1v1h-1zM506 801h1v3h-1zM781 801h1v1h-1zM854 801h1v2h-1zM881 801h2v1h-2zM974 801h1v2h-1zM440 802h2v1h-2zM780 802h1v1h-1zM855 802h1v1h-1zM879 802h2v1h-2zM896 802h1v2h-1zM973 802h1v1h-1zM439 803h1v1h-1zM779 803h1v1h-1zM856 803h4v1h-4zM878 803h1v1h-1zM972 803h1v1h-1zM975 803h1v3h-1zM434 804h5v1h-5zM507 804h1v2h-1zM778 804h1v2h-1zM860 804h3v1h-3zM876 804h2v1h-2zM897 804h1v3h-1zM971 804h1v1h-1zM428 805h6v1h-6zM863 805h2v1h-2zM874 805h2v1h-2zM970 805h1v1h-1zM424 806h4v1h-4zM508 806h1v3h-1zM777 806h1v1h-1zM865 806h2v1h-2zM873 806h1v1h-1zM969 806h1v1h-1zM976 806h1v2h-1zM420 807h4v1h-4zM776 807h1v1h-1zM867 807h2v1h-2zM871 807h2v1h-2zM898 807h1v2h-1zM968 807h1v1h-1zM416 808h4v1h-4zM775 808h1v1h-1zM869 808h2v1h-2zM967 808h1v1h-1zM977 808h1v3h-1zM414 809h2v1h-2zM509 809h1v2h-1zM772 809h3v1h-3zM899 809h1v3h-1zM964 809h3v1h-3zM413 810h1v1h-1zM768 810h4v1h-4zM960 810h4v1h-4zM412 811h1v1h-1zM510 811h1v2h-1zM534 811h1v1h-1zM738 811h5v1h-5zM758 811h10v1h-10zM954 811h6v1h-6zM978 811h1v3h-1zM411 812h1v1h-1zM533 812h1v1h-1zM535 812h1v2h-1zM734 812h4v1h-4zM743 812h1v1h-1zM757 812h1v1h-1zM900 812h1v2h-1zM949 812h5v1h-5zM410 813h1v1h-1zM511 813h1v2h-1zM532 813h1v1h-1zM733 813h1v1h-1zM744 813h1v1h-1zM756 813h1v1h-1zM947 813h2v1h-2zM409 814h1v1h-1zM531 814h1v1h-1zM536 814h1v2h-1zM732 814h1v1h-1zM745 814h1v1h-1zM754 814h2v1h-2zM901 814h1v2h-1zM945 814h2v1h-2zM979 814h1v3h-1zM1061 814h3v1h-3zM408 815h1v1h-1zM512 815h1v1h-1zM530 815h1v2h-1zM731 815h1v1h-1zM746 815h2v1h-2zM753 815h1v1h-1zM943 815h2v1h-2zM1058 815h3v1h-3zM1064 815h2v1h-2zM407 816h1v1h-1zM513 816h1v1h-1zM537 816h1v1h-1zM730 816h1v2h-1zM748 816h1v1h-1zM752 816h1v1h-1zM902 816h1v2h-1zM938 816h5v1h-5zM1056 816h2v1h-2zM1066 816h3v1h-3zM406 817h1v1h-1zM514 817h1v2h-1zM529 817h1v1h-1zM538 817h1v2h-1zM749 817h1v1h-1zM751 817h1v1h-1zM903 817h8v1h-8zM934 817h4v1h-4zM980 817h1v2h-1zM1053 817h3v1h-3zM1069 817h2v1h-2zM358 818h1v1h-1zM404 818h2v1h-2zM528 818h1v1h-1zM729 818h1v1h-1zM750 818h1v1h-1zM911 818h1v1h-1zM933 818h1v1h-1zM1050 818h3v1h-3zM1071 818h1v2h-1zM357 819h1v1h-1zM359 819h1v1h-1zM402 819h2v1h-2zM515 819h1v1h-1zM527 819h1v1h-1zM539 819h1v1h-1zM694 819h1v1h-1zM728 819h1v1h-1zM912 819h1v1h-1zM932 819h1v1h-1zM981 819h1v3h-1zM1048 819h2v1h-2zM356 820h1v1h-1zM360 820h2v1h-2zM401 820h1v1h-1zM516 820h1v1h-1zM525 820h2v1h-2zM540 820h1v2h-1zM589 820h2v1h-2zM678 820h1v1h-1zM693 820h1v1h-1zM695 820h1v2h-1zM727 820h1v1h-1zM913 820h1v1h-1zM931 820h1v1h-1zM989 820h2v1h-2zM1046 820h2v1h-2zM1072 820h1v2h-1zM355 821h1v1h-1zM362 821h1v1h-1zM399 821h2v1h-2zM517 821h1v2h-1zM522 821h3v1h-3zM587 821h2v1h-2zM591 821h1v2h-1zM677 821h1v2h-1zM679 821h1v1h-1zM692 821h1v2h-1zM726 821h1v1h-1zM914 821h1v1h-1zM930 821h1v2h-1zM986 821h3v1h-3zM991 821h1v2h-1zM1045 821h1v1h-1zM354 822h1v2h-1zM363 822h1v1h-1zM398 822h1v1h-1zM520 822h2v1h-2zM541 822h1v2h-1zM585 822h2v1h-2zM680 822h1v1h-1zM696 822h1v1h-1zM724 822h2v1h-2zM915 822h1v1h-1zM982 822h1v2h-1zM984 822h2v1h-2zM1044 822h1v2h-1zM1073 822h1v2h-1zM364 823h2v1h-2zM397 823h1v2h-1zM518 823h2v1h-2zM583 823h2v1h-2zM592 823h1v1h-1zM676 823h1v1h-1zM681 823h1v1h-1zM691 823h1v1h-1zM697 823h1v1h-1zM723 823h1v1h-1zM916 823h1v1h-1zM929 823h1v1h-1zM983 823h1v1h-1zM992 823h1v2h-1zM230 824h2v1h-2zM353 824h1v1h-1zM366 824h1v1h-1zM542 824h1v1h-1zM582 824h1v1h-1zM593 824h1v1h-1zM675 824h1v2h-1zM682 824h1v2h-1zM690 824h1v1h-1zM698 824h1v2h-1zM722 824h1v1h-1zM917 824h1v1h-1zM928 824h1v1h-1zM1043 824h1v1h-1zM1074 824h1v2h-1zM228 825h2v1h-2zM232 825h2v1h-2zM352 825h1v1h-1zM367 825h1v2h-1zM396 825h1v2h-1zM543 825h2v1h-2zM581 825h1v2h-1zM594 825h1v2h-1zM689 825h1v1h-1zM720 825h2v1h-2zM918 825h4v1h-4zM927 825h1v1h-1zM993 825h1v2h-1zM1042 825h1v1h-1zM2 826h5v1h-5zM226 826h2v1h-2zM234 826h3v1h-3zM351 826h1v1h-1zM545 826h2v1h-2zM674 826h1v1h-1zM683 826h1v1h-1zM688 826h1v2h-1zM699 826h1v1h-1zM719 826h1v1h-1zM922 826h5v1h-5zM1026 826h5v1h-5zM1041 826h1v1h-1zM1075 826h1v2h-1zM0 827h2v1h-2zM7 827h1v2h-1zM225 827h1v1h-1zM237 827h2v1h-2zM348 827h3v1h-3zM368 827h1v1h-1zM395 827h1v1h-1zM547 827h2v1h-2zM580 827h1v2h-1zM595 827h1v1h-1zM673 827h1v2h-1zM684 827h1v1h-1zM700 827h1v1h-1zM714 827h5v1h-5zM994 827h1v1h-1zM1022 827h4v1h-4zM1031 827h2v1h-2zM1040 827h1v2h-1zM1334 827h9v1h-9zM1406 827h1v1h-1zM223 828h2v1h-2zM239 828h1v2h-1zM344 828h4v1h-4zM369 828h1v2h-1zM394 828h1v2h-1zM549 828h2v1h-2zM596 828h1v1h-1zM685 828h1v1h-1zM687 828h1v1h-1zM701 828h1v2h-1zM708 828h6v1h-6zM995 828h1v2h-1zM1020 828h2v1h-2zM1033 828h2v1h-2zM1076 828h1v2h-1zM1333 828h1v1h-1zM1343 828h2v1h-2zM1405 828h1v1h-1zM8 829h1v1h-1zM222 829h1v1h-1zM342 829h2v1h-2zM551 829h1v1h-1zM579 829h1v2h-1zM597 829h1v2h-1zM672 829h1v1h-1zM686 829h1v1h-1zM704 829h4v1h-4zM1019 829h1v1h-1zM1035 829h2v1h-2zM1039 829h1v1h-1zM1158 829h1v1h-1zM1332 829h1v1h-1zM1345 829h1v1h-1zM1404 829h1v2h-1zM9 830h1v1h-1zM221 830h1v1h-1zM240 830h1v1h-1zM342 830h1v1h-1zM370 830h1v1h-1zM393 830h1v1h-1zM552 830h2v1h-2zM671 830h1v2h-1zM702 830h2v1h-2zM996 830h1v2h-1zM1018 830h1v1h-1zM1037 830h2v1h-2zM1077 830h1v2h-1zM1156 830h2v1h-2zM1159 830h1v1h-1zM1331 830h1v1h-1zM1346 830h2v1h-2zM10 831h1v2h-1zM220 831h1v2h-1zM241 831h1v1h-1zM341 831h1v2h-1zM371 831h1v2h-1zM392 831h1v2h-1zM554 831h1v1h-1zM578 831h1v2h-1zM598 831h1v1h-1zM645 831h3v1h-3zM1016 831h2v1h-2zM1154 831h2v1h-2zM1160 831h2v1h-2zM1330 831h1v2h-1zM1348 831h2v1h-2zM1403 831h1v1h-1zM242 832h1v2h-1zM555 832h1v1h-1zM599 832h2v1h-2zM629 832h3v1h-3zM642 832h3v1h-3zM648 832h2v1h-2zM666 832h5v1h-5zM997 832h1v2h-1zM1004 832h6v1h-6zM1015 832h1v1h-1zM1078 832h1v2h-1zM1092 832h3v1h-3zM1153 832h1v1h-1zM1162 832h1v1h-1zM1350 832h1v1h-1zM1402 832h1v1h-1zM11 833h1v1h-1zM219 833h1v1h-1zM340 833h1v2h-1zM372 833h1v1h-1zM391 833h1v2h-1zM556 833h2v1h-2zM577 833h1v2h-1zM601 833h1v1h-1zM626 833h3v1h-3zM632 833h4v1h-4zM640 833h2v1h-2zM650 833h3v1h-3zM658 833h8v1h-8zM1000 833h4v1h-4zM1010 833h5v1h-5zM1079 833h3v1h-3zM1088 833h4v1h-4zM1095 833h2v1h-2zM1151 833h2v1h-2zM1163 833h1v1h-1zM1186 833h6v1h-6zM1302 833h1v1h-1zM1329 833h1v1h-1zM1351 833h1v2h-1zM1401 833h1v1h-1zM12 834h1v1h-1zM110 834h1v1h-1zM218 834h1v1h-1zM243 834h1v1h-1zM373 834h1v2h-1zM380 834h6v1h-6zM558 834h2v1h-2zM602 834h2v1h-2zM624 834h2v1h-2zM636 834h4v1h-4zM653 834h5v1h-5zM998 834h2v1h-2zM1082 834h6v1h-6zM1097 834h2v1h-2zM1148 834h3v1h-3zM1164 834h2v1h-2zM1182 834h4v1h-4zM1192 834h4v1h-4zM1301 834h1v2h-1zM1303 834h1v1h-1zM1328 834h1v1h-1zM1400 834h1v2h-1zM13 835h1v2h-1zM109 835h1v1h-1zM111 835h1v1h-1zM217 835h1v1h-1zM244 835h1v1h-1zM339 835h1v3h-1zM376 835h4v1h-4zM386 835h5v1h-5zM560 835h2v1h-2zM576 835h1v2h-1zM604 835h2v1h-2zM610 835h14v1h-14zM1099 835h2v1h-2zM1144 835h4v1h-4zM1166 835h1v1h-1zM1181 835h1v1h-1zM1196 835h3v1h-3zM1304 835h1v1h-1zM1327 835h1v1h-1zM1352 835h1v1h-1zM108 836h1v1h-1zM112 836h1v2h-1zM216 836h1v2h-1zM245 836h1v2h-1zM374 836h2v1h-2zM562 836h3v1h-3zM606 836h4v1h-4zM1101 836h3v1h-3zM1138 836h6v1h-6zM1167 836h1v1h-1zM1180 836h1v1h-1zM1199 836h1v2h-1zM1300 836h1v2h-1zM1305 836h1v1h-1zM1322 836h5v1h-5zM1353 836h1v2h-1zM1399 836h1v1h-1zM14 837h9v1h-9zM107 837h1v1h-1zM565 837h3v1h-3zM575 837h1v2h-1zM1104 837h2v1h-2zM1133 837h5v1h-5zM1168 837h1v1h-1zM1179 837h1v1h-1zM1306 837h1v2h-1zM1318 837h4v1h-4zM1398 837h1v1h-1zM23 838h1v1h-1zM106 838h1v1h-1zM113 838h1v1h-1zM215 838h1v1h-1zM246 838h1v1h-1zM338 838h1v2h-1zM568 838h4v1h-4zM1106 838h3v1h-3zM1131 838h2v1h-2zM1169 838h1v1h-1zM1178 838h1v2h-1zM1200 838h1v2h-1zM1299 838h1v1h-1zM1316 838h2v1h-2zM1354 838h1v1h-1zM1397 838h1v2h-1zM24 839h1v1h-1zM105 839h1v1h-1zM114 839h1v1h-1zM214 839h1v1h-1zM247 839h1v1h-1zM572 839h3v1h-3zM1109 839h2v1h-2zM1129 839h2v1h-2zM1170 839h1v1h-1zM1298 839h1v2h-1zM1307 839h1v1h-1zM1314 839h2v1h-2zM1355 839h1v2h-1zM25 840h1v1h-1zM90 840h6v1h-6zM104 840h1v1h-1zM115 840h1v1h-1zM213 840h1v1h-1zM248 840h1v2h-1zM337 840h1v3h-1zM1111 840h1v1h-1zM1127 840h2v1h-2zM1171 840h1v1h-1zM1177 840h1v1h-1zM1201 840h1v2h-1zM1308 840h1v1h-1zM1313 840h1v1h-1zM1396 840h1v2h-1zM26 841h2v1h-2zM86 841h4v1h-4zM96 841h4v1h-4zM103 841h1v1h-1zM116 841h1v2h-1zM212 841h1v1h-1zM1112 841h1v2h-1zM1126 841h1v1h-1zM1172 841h1v1h-1zM1176 841h1v1h-1zM1297 841h1v1h-1zM1309 841h1v1h-1zM1311 841h2v1h-2zM1356 841h1v1h-1zM28 842h1v1h-1zM85 842h1v1h-1zM100 842h3v1h-3zM211 842h1v1h-1zM249 842h1v1h-1zM1125 842h1v1h-1zM1173 842h1v1h-1zM1175 842h1v1h-1zM1202 842h1v2h-1zM1277 842h2v1h-2zM1296 842h1v2h-1zM1310 842h1v1h-1zM1357 842h1v2h-1zM1395 842h1v1h-1zM29 843h1v1h-1zM84 843h1v1h-1zM117 843h1v1h-1zM210 843h1v2h-1zM250 843h1v1h-1zM336 843h1v2h-1zM1113 843h1v1h-1zM1124 843h1v1h-1zM1174 843h1v1h-1zM1262 843h2v1h-2zM1275 843h2v1h-2zM1279 843h1v1h-1zM1394 843h1v2h-1zM30 844h1v1h-1zM82 844h2v1h-2zM118 844h1v1h-1zM251 844h1v1h-1zM302 844h1v1h-1zM1114 844h1v1h-1zM1123 844h1v1h-1zM1203 844h1v2h-1zM1261 844h1v2h-1zM1264 844h2v1h-2zM1273 844h2v1h-2zM1280 844h2v1h-2zM1295 844h1v2h-1zM1358 844h9v1h-9zM31 845h1v1h-1zM70 845h2v1h-2zM81 845h1v1h-1zM119 845h2v1h-2zM209 845h1v1h-1zM252 845h1v2h-1zM301 845h1v1h-1zM303 845h2v1h-2zM335 845h1v2h-1zM1115 845h1v1h-1zM1122 845h1v1h-1zM1266 845h3v1h-3zM1271 845h2v1h-2zM1282 845h1v1h-1zM1367 845h1v1h-1zM1393 845h1v1h-1zM32 846h1v1h-1zM69 846h1v2h-1zM72 846h2v1h-2zM80 846h1v1h-1zM121 846h2v1h-2zM208 846h1v1h-1zM274 846h8v1h-8zM300 846h1v1h-1zM305 846h2v1h-2zM1116 846h1v2h-1zM1121 846h1v1h-1zM1204 846h1v2h-1zM1260 846h1v2h-1zM1269 846h2v1h-2zM1283 846h1v1h-1zM1292 846h3v1h-3zM1368 846h2v1h-2zM1392 846h1v2h-1zM33 847h1v1h-1zM74 847h3v1h-3zM79 847h1v1h-1zM123 847h2v1h-2zM130 847h8v1h-8zM207 847h1v1h-1zM253 847h1v1h-1zM270 847h4v1h-4zM282 847h5v1h-5zM298 847h2v1h-2zM307 847h2v1h-2zM334 847h1v2h-1zM1120 847h1v1h-1zM1284 847h2v1h-2zM1288 847h4v1h-4zM1370 847h1v1h-1zM34 848h1v2h-1zM68 848h1v1h-1zM77 848h2v1h-2zM125 848h5v1h-5zM138 848h16v1h-16zM204 848h3v1h-3zM254 848h1v1h-1zM269 848h1v1h-1zM287 848h2v1h-2zM297 848h1v1h-1zM309 848h3v1h-3zM330 848h4v1h-4zM1117 848h1v1h-1zM1119 848h1v1h-1zM1205 848h1v2h-1zM1259 848h1v2h-1zM1286 848h2v1h-2zM1371 848h1v1h-1zM1380 848h4v1h-4zM1391 848h1v2h-1zM67 849h1v1h-1zM154 849h5v1h-5zM200 849h4v1h-4zM255 849h1v1h-1zM268 849h1v1h-1zM289 849h2v1h-2zM296 849h1v1h-1zM312 849h2v1h-2zM324 849h6v1h-6zM1118 849h1v1h-1zM1372 849h2v1h-2zM1376 849h4v1h-4zM1384 849h4v1h-4zM35 850h1v1h-1zM66 850h1v2h-1zM159 850h2v1h-2zM190 850h10v1h-10zM256 850h2v1h-2zM266 850h2v1h-2zM291 850h2v1h-2zM295 850h1v1h-1zM314 850h3v1h-3zM320 850h4v1h-4zM1206 850h1v2h-1zM1258 850h1v1h-1zM1374 850h2v1h-2zM1388 850h3v1h-3zM36 851h1v1h-1zM161 851h1v1h-1zM188 851h2v1h-2zM258 851h1v1h-1zM265 851h1v1h-1zM293 851h2v1h-2zM317 851h3v1h-3zM1257 851h1v2h-1zM37 852h1v1h-1zM65 852h1v1h-1zM162 852h2v1h-2zM186 852h2v1h-2zM259 852h1v1h-1zM264 852h1v1h-1zM1207 852h1v1h-1zM38 853h2v1h-2zM64 853h1v1h-1zM164 853h2v1h-2zM185 853h1v1h-1zM260 853h2v1h-2zM263 853h1v1h-1zM1208 853h1v2h-1zM1256 853h1v2h-1zM40 854h4v1h-4zM63 854h1v2h-1zM166 854h1v1h-1zM183 854h2v1h-2zM262 854h1v1h-1zM44 855h6v1h-6zM167 855h2v1h-2zM181 855h2v1h-2zM1209 855h1v1h-1zM1255 855h1v2h-1zM50 856h13v1h-13zM169 856h1v1h-1zM179 856h2v1h-2zM1210 856h1v1h-1zM170 857h2v1h-2zM177 857h2v1h-2zM1211 857h1v1h-1zM1254 857h1v1h-1zM172 858h2v1h-2zM175 858h2v1h-2zM1212 858h1v2h-1zM1253 858h1v1h-1zM174 859h1v1h-1zM1252 859h1v2h-1zM1213 860h1v1h-1zM1214 861h1v1h-1zM1251 861h1v1h-1zM1215 862h1v1h-1zM1250 862h1v1h-1zM1216 863h1v1h-1zM1249 863h1v1h-1zM1217 864h1v1h-1zM1229 864h2v1h-2zM1248 864h1v2h-1zM1218 865h2v1h-2zM1227 865h2v1h-2zM1231 865h1v1h-1zM1220 866h1v1h-1zM1225 866h2v1h-2zM1232 866h2v1h-2zM1247 866h1v1h-1zM1221 867h1v1h-1zM1223 867h2v1h-2zM1234 867h1v1h-1zM1245 867h2v1h-2zM1222 868h1v1h-1zM1235 868h1v1h-1zM1242 868h3v1h-3zM1236 869h2v1h-2zM1240 869h2v1h-2zM1238 870h2v1h-2z" fill="#1e90ff" shape-rendering="crispEdges"/>
<rect x="1164" y="152" width="289" height="4" fill="#00ff00" shape-rendering="crispEdges"/>
<line x1="1242" y1="212" x2="1329.6" y2="131.9" stroke="#ff0000" stroke-width="3.3" stroke-linecap="round"/>
<polygon fill="#ff0000" points="1335.5,126.5 1331.5,136.9 1324.7,129.6"/>
<line x1="1335.5" y1="126.5" x2="1387.4" y2="170.3" stroke="#ff0000" stroke-width="3.3" stroke-linecap="round"/>
<polygon fill="#ff0000" points="1393.5,175.5 1382.6,172.9 1389.1,165.2"/>
<line x1="1393.5" y1="175.5" x2="1420.2" y2="130.4" stroke="#ff0000" stroke-width="3.3" stroke-linecap="round"/>
<polygon fill="#ff0000" points="1424.3,123.5 1423.5,134.7 1414.9,129.6"/>
<line x1="1238.2" y1="874.1" x2="1339.2" y2="830" stroke="#ff0000" stroke-width="3.3" stroke-linecap="round"/>
<polygon fill="#ff0000" points="1346.5,826.8 1339.3,835.4 1335.3,826.2"/>
<line x1="1346.5" y1="826.8" x2="1376.4" y2="851.7" stroke="#ff0000" stroke-width="3.3" stroke-linecap="round"/>
<polygon fill="#ff0000" points="1382.5,856.8 1371.6,854.2 1378,846.6"/>
<line x1="1382.5" y1="856.8" x2="1419.2" y2="827.5" stroke="#ff0000" stroke-width="3.3" stroke-linecap="round"/>
<polygon fill="#ff0000" points="1425.5,822.5 1420.8,832.6 1414.6,824.8"/>
<rect x="999.5" y="43.5" width="61" height="18" fill="#ffffff" stroke="#ff0000" stroke-width="1" shape-rendering="crispEdges"/>
<text x="1030.0" y="58.5" font-family="Liberation Serif, serif" font-size="18" fill="#ff0000" text-anchor="middle" textLength="56" lengthAdjust="spacingAndGlyphs">1.20100</text>
<rect x="1263.5" y="115.5" width="61" height="18" fill="#ffffff" stroke="#ff0000" stroke-width="1" shape-rendering="crispEdges"/>
<text x="1294.0" y="130.5" font-family="Liberation Serif, serif" font-size="18" fill="#ff0000" text-anchor="middle" textLength="56" lengthAdjust="spacingAndGlyphs">1.18303</text>
<rect x="1167.5" y="203.5" width="61" height="17" fill="#ffffff" stroke="#ff0000" stroke-width="1" shape-rendering="crispEdges"/>
<text x="1198.0" y="217.5" font-family="Liberation Serif, serif" font-size="18" fill="#ff0000" text-anchor="middle" textLength="56" lengthAdjust="spacingAndGlyphs">1.16137</text>
<rect x="697.5" y="140.5" width="73" height="24" fill="#ffffff" stroke="#ff0000" stroke-width="1" shape-rendering="crispEdges"/>
<text x="699.3" y="161" font-family="Liberation Sans, sans-serif" font-size="23.7" fill="#ff0000" stroke="#ff0000" stroke-width="0.3" textLength="70.5" lengthAdjust="spacingAndGlyphs">1.17608</text>
<rect x="687" y="152" width="10" height="1" fill="#ff0000" shape-rendering="crispEdges"/>
<g shape-rendering="crispEdges">
<rect x="1061" y="50" width="3" height="4" fill="#ff0000"/>
<rect x="1062" y="51" width="1" height="2" fill="#fff"/>
<rect x="1064" y="52" width="7" height="1" fill="#ff0000"/>
<rect x="1325" y="124" width="10" height="1" fill="#ff0000"/>
<rect x="1229" y="211" width="9" height="1" fill="#ff0000"/>
</g>
<text x="1452" y="199" font-family="Liberation Serif, Noto Serif CJK SC, serif" font-size="20" fill="#00ff00" textLength="112" lengthAdjust="spacing">多空转折点</text>
<g shape-rendering="crispEdges">
<rect x="1673" y="23" width="46" height="921" fill="#ffffff"/>
<rect x="0" y="25" width="1673" height="1" fill="#000"/>
<rect x="1672" y="25" width="1" height="902" fill="#000"/>
<rect x="0" y="578" width="1673" height="1" fill="#000"/>
<rect x="0" y="580" width="1673" height="1" fill="#000"/>
<rect x="0" y="750" width="1673" height="1" fill="#000"/>
<rect x="0" y="752" width="1673" height="1" fill="#000"/>
<rect x="0" y="926" width="1673" height="1" fill="#000"/>
<rect x="0" y="579" width="1672" height="1" fill="#fff"/>
<rect x="0" y="751" width="1672" height="1" fill="#fff"/>
<rect x="0" y="927" width="1719" height="17" fill="#fff"/>
<rect x="1718" y="23" width="1" height="921" fill="#e3e3e3"/>
<rect x="1667" y="70" width="5" height="5" fill="#ff0000"/>
<rect x="1668" y="71" width="3" height="3" fill="#fff"/>
<rect x="1667" y="95" width="5" height="5" fill="#ff0000"/>
<rect x="1668" y="96" width="3" height="3" fill="#fff"/>
<rect x="1667" y="176" width="5" height="5" fill="#0000ff"/>
<rect x="1668" y="177" width="3" height="3" fill="#fff"/>
<rect x="1667" y="203" width="5" height="5" fill="#0000ff"/>
<rect x="1668" y="204" width="3" height="3" fill="#fff"/>
</g>
<g shape-rendering="crispEdges">
<rect x="1673" y="47" width="2" height="1" fill="#000"/>
<rect x="1673" y="80" width="2" height="1" fill="#000"/>
<rect x="1673" y="113" width="2" height="1" fill="#000"/>
<rect x="1673" y="146" width="2" height="1" fill="#000"/>
<rect x="1673" y="179" width="2" height="1" fill="#000"/>
<rect x="1673" y="212" width="2" height="1" fill="#000"/>
<rect x="1673" y="245" width="2" height="1" fill="#000"/>
<rect x="1673" y="278" width="2" height="1" fill="#000"/>
<rect x="1673" y="311" width="2" height="1" fill="#000"/>
<rect x="1673" y="344" width="2" height="1" fill="#000"/>
<rect x="1673" y="377" width="2" height="1" fill="#000"/>
<rect x="1673" y="410" width="2" height="1" fill="#000"/>
<rect x="1673" y="443" width="2" height="1" fill="#000"/>
<rect x="1673" y="476" width="2" height="1" fill="#000"/>
<rect x="1673" y="509" width="2" height="1" fill="#000"/>
<rect x="1673" y="542" width="2" height="1" fill="#000"/>
<rect x="1673" y="575" width="2" height="1" fill="#000"/>
</g>
<text x="1678.5" y="50.3" font-family="Liberation Sans, sans-serif" font-size="9.2" fill="#000" textLength="32" lengthAdjust="spacingAndGlyphs">1.20240</text>
<text x="1678.5" y="83.3" font-family="Liberation Sans, sans-serif" font-size="9.2" fill="#000" textLength="32" lengthAdjust="spacingAndGlyphs">1.19400</text>
<text x="1678.5" y="116.3" font-family="Liberation Sans, sans-serif" font-size="9.2" fill="#000" textLength="32" lengthAdjust="spacingAndGlyphs">1.18580</text>
<text x="1678.5" y="149.3" font-family="Liberation Sans, sans-serif" font-size="9.2" fill="#000" textLength="32" lengthAdjust="spacingAndGlyphs">1.17760</text>
<text x="1678.5" y="182.3" font-family="Liberation Sans, sans-serif" font-size="9.2" fill="#000" textLength="32" lengthAdjust="spacingAndGlyphs">1.16940</text>
<text x="1678.5" y="215.3" font-family="Liberation Sans, sans-serif" font-size="9.2" fill="#000" textLength="32" lengthAdjust="spacingAndGlyphs">1.16100</text>
<text x="1678.5" y="248.3" font-family="Liberation Sans, sans-serif" font-size="9.2" fill="#000" textLength="32" lengthAdjust="spacingAndGlyphs">1.15280</text>
<text x="1678.5" y="281.3" font-family="Liberation Sans, sans-serif" font-size="9.2" fill="#000" textLength="32" lengthAdjust="spacingAndGlyphs">1.14440</text>
<text x="1678.5" y="314.3" font-family="Liberation Sans, sans-serif" font-size="9.2" fill="#000" textLength="32" lengthAdjust="spacingAndGlyphs">1.13620</text>
<text x="1678.5" y="347.3" font-family="Liberation Sans, sans-serif" font-size="9.2" fill="#000" textLength="32" lengthAdjust="spacingAndGlyphs">1.12780</text>
<text x="1678.5" y="380.3" font-family="Liberation Sans, sans-serif" font-size="9.2" fill="#000" textLength="32" lengthAdjust="spacingAndGlyphs">1.11960</text>
<text x="1678.5" y="413.3" font-family="Liberation Sans, sans-serif" font-size="9.2" fill="#000" textLength="32" lengthAdjust="spacingAndGlyphs">1.11140</text>
<text x="1678.5" y="446.3" font-family="Liberation Sans, sans-serif" font-size="9.2" fill="#000" textLength="32" lengthAdjust="spacingAndGlyphs">1.10300</text>
<text x="1678.5" y="479.3" font-family="Liberation Sans, sans-serif" font-size="9.2" fill="#000" textLength="32" lengthAdjust="spacingAndGlyphs">1.09480</text>
<text x="1678.5" y="512.3" font-family="Liberation Sans, sans-serif" font-size="9.2" fill="#000" textLength="32" lengthAdjust="spacingAndGlyphs">1.08660</text>
<text x="1678.5" y="545.3" font-family="Liberation Sans, sans-serif" font-size="9.2" fill="#000" textLength="32" lengthAdjust="spacingAndGlyphs">1.07820</text>
<text x="1678.5" y="578.3" font-family="Liberation Sans, sans-serif" font-size="9.2" fill="#000" textLength="32" lengthAdjust="spacingAndGlyphs">1.07000</text>
<rect x="1674" y="66" width="41" height="11" fill="#ff0000" shape-rendering="crispEdges"/>
<text x="1678.5" y="74.3" font-family="Liberation Sans, sans-serif" font-size="9.2" fill="#fff" textLength="32" lengthAdjust="spacingAndGlyphs">1.19599</text>
<rect x="1674" y="91" width="41" height="11" fill="#ff0000" shape-rendering="crispEdges"/>
<text x="1678.5" y="99.3" font-family="Liberation Sans, sans-serif" font-size="9.2" fill="#fff" textLength="32" lengthAdjust="spacingAndGlyphs">1.18974</text>
<rect x="1674" y="121" width="41" height="11" fill="#000000" shape-rendering="crispEdges"/>
<text x="1678.5" y="129.3" font-family="Liberation Sans, sans-serif" font-size="9.2" fill="#fff" textLength="32" lengthAdjust="spacingAndGlyphs">1.18264</text>
<rect x="1674" y="146" width="41" height="11" fill="#ffa500" shape-rendering="crispEdges"/>
<text x="1678.5" y="154.3" font-family="Liberation Sans, sans-serif" font-size="9.2" fill="#fff" textLength="32" lengthAdjust="spacingAndGlyphs">1.17608</text>
<rect x="1674" y="172" width="41" height="11" fill="#0000ff" shape-rendering="crispEdges"/>
<text x="1678.5" y="180.3" font-family="Liberation Sans, sans-serif" font-size="9.2" fill="#fff" textLength="32" lengthAdjust="spacingAndGlyphs">1.16947</text>
<rect x="1674" y="199" width="41" height="11" fill="#0000ff" shape-rendering="crispEdges"/>
<text x="1678.5" y="207.3" font-family="Liberation Sans, sans-serif" font-size="9.2" fill="#fff" textLength="32" lengthAdjust="spacingAndGlyphs">1.16272</text>
<g shape-rendering="crispEdges">
<rect x="1673" y="582" width="2" height="1" fill="#000"/>
</g>
<text x="1676" y="591.5" font-family="Liberation Sans, sans-serif" font-size="9.2" fill="#000">0.014864</text>
<text x="1676" y="692.5" font-family="Liberation Sans, sans-serif" font-size="9.2" fill="#000">0.00</text>
<text x="1676" y="746.5" font-family="Liberation Sans, sans-serif" font-size="9.2" fill="#000">-0.008425</text>
<text x="1675.5" y="763" font-family="Liberation Sans, sans-serif" font-size="9.2" fill="#000">100</text>
<text x="1675.5" y="791.7" font-family="Liberation Sans, sans-serif" font-size="9.2" fill="#000">80</text>
<text x="1675.5" y="842.7" font-family="Liberation Sans, sans-serif" font-size="9.2" fill="#000">50</text>
<text x="1675.5" y="903.7" font-family="Liberation Sans, sans-serif" font-size="9.2" fill="#000">15</text>
<text x="1675.5" y="922.7" font-family="Liberation Sans, sans-serif" font-size="9.2" fill="#000">0</text>
<g shape-rendering="crispEdges">
<rect x="46" y="927" width="1" height="2" fill="#000"/>
<rect x="110" y="927" width="1" height="2" fill="#000"/>
<rect x="174" y="927" width="1" height="2" fill="#000"/>
<rect x="238" y="927" width="1" height="2" fill="#000"/>
<rect x="302" y="927" width="1" height="2" fill="#000"/>
<rect x="366" y="927" width="1" height="2" fill="#000"/>
<rect x="430" y="927" width="1" height="2" fill="#000"/>
<rect x="494" y="927" width="1" height="2" fill="#000"/>
<rect x="558" y="927" width="1" height="2" fill="#000"/>
<rect x="622" y="927" width="1" height="2" fill="#000"/>
<rect x="686" y="927" width="1" height="2" fill="#000"/>
<rect x="750" y="927" width="1" height="2" fill="#000"/>
<rect x="814" y="927" width="1" height="2" fill="#000"/>
<rect x="878" y="927" width="1" height="2" fill="#000"/>
<rect x="942" y="927" width="1" height="2" fill="#000"/>
<rect x="1006" y="927" width="1" height="2" fill="#000"/>
<rect x="1070" y="927" width="1" height="2" fill="#000"/>
<rect x="1134" y="927" width="1" height="2" fill="#000"/>
<rect x="1198" y="927" width="1" height="2" fill="#000"/>
<rect x="1262" y="927" width="1" height="2" fill="#000"/>
<rect x="1326" y="927" width="1" height="2" fill="#000"/>
<rect x="1390" y="927" width="1" height="2" fill="#000"/>
</g>
<text x="-18.5" y="938.5" font-family="Liberation Sans, sans-serif" font-size="9.4" fill="#000">25 Mar 2020</text>
<text x="45.5" y="938.5" font-family="Liberation Sans, sans-serif" font-size="9.4" fill="#000">3 Apr 2020</text>
<text x="109.5" y="938.5" font-family="Liberation Sans, sans-serif" font-size="9.4" fill="#000">14 Apr 2020</text>
<text x="173.5" y="938.5" font-family="Liberation Sans, sans-serif" font-size="9.4" fill="#000">23 Apr 2020</text>
<text x="237.5" y="938.5" font-family="Liberation Sans, sans-serif" font-size="9.4" fill="#000">3 May 2020</text>
<text x="301.5" y="938.5" font-family="Liberation Sans, sans-serif" font-size="9.4" fill="#000">12 May 2020</text>
<text x="365.5" y="938.5" font-family="Liberation Sans, sans-serif" font-size="9.4" fill="#000">21 May 2020</text>
<text x="429.5" y="938.5" font-family="Liberation Sans, sans-serif" font-size="9.4" fill="#000">31 May 2020</text>
<text x="493.5" y="938.5" font-family="Liberation Sans, sans-serif" font-size="9.4" fill="#000">9 Jun 2020</text>
<text x="557.5" y="938.5" font-family="Liberation Sans, sans-serif" font-size="9.4" fill="#000">18 Jun 2020</text>
<text x="621.5" y="938.5" font-family="Liberation Sans, sans-serif" font-size="9.4" fill="#000">28 Jun 2020</text>
<text x="685.5" y="938.5" font-family="Liberation Sans, sans-serif" font-size="9.4" fill="#000">7 Jul 2020</text>
<text x="749.5" y="938.5" font-family="Liberation Sans, sans-serif" font-size="9.4" fill="#000">16 Jul 2020</text>
<text x="813.5" y="938.5" font-family="Liberation Sans, sans-serif" font-size="9.4" fill="#000">26 Jul 2020</text>
<text x="877.5" y="938.5" font-family="Liberation Sans, sans-serif" font-size="9.4" fill="#000">4 Aug 2020</text>
<text x="941.5" y="938.5" font-family="Liberation Sans, sans-serif" font-size="9.4" fill="#000">13 Aug 2020</text>
<text x="1005.5" y="938.5" font-family="Liberation Sans, sans-serif" font-size="9.4" fill="#000">23 Aug 2020</text>
<text x="1069.5" y="938.5" font-family="Liberation Sans, sans-serif" font-size="9.4" fill="#000">1 Sep 2020</text>
<text x="1133.5" y="938.5" font-family="Liberation Sans, sans-serif" font-size="9.4" fill="#000">10 Sep 2020</text>
<text x="1197.5" y="938.5" font-family="Liberation Sans, sans-serif" font-size="9.4" fill="#000">20 Sep 2020</text>
<text x="1261.5" y="938.5" font-family="Liberation Sans, sans-serif" font-size="9.4" fill="#000">29 Sep 2020</text>
<text x="1325.5" y="938.5" font-family="Liberation Sans, sans-serif" font-size="9.4" fill="#000">8 Oct 2020</text>
<text x="1389.5" y="938.5" font-family="Liberation Sans, sans-serif" font-size="9.4" fill="#000">18 Oct 2020</text>
<text x="-1.5" y="37" font-family="Liberation Sans, sans-serif" font-size="9.2" fill="#000" textLength="65.5" lengthAdjust="spacingAndGlyphs">EURUSD-,Daily</text>
<text x="70.5" y="37" font-family="Liberation Sans, sans-serif" font-size="9.2" fill="#000" textLength="140.5" lengthAdjust="spacingAndGlyphs">1.17673 1.18398 1.17591 1.18264</text>
<text x="139.6" y="592.5" font-family="Liberation Sans, sans-serif" font-size="9.2" fill="#000" text-anchor="end">MACD(12,26,9) -0.000002 -0.000229</text>
<text x="53.7" y="765" font-family="Liberation Sans, sans-serif" font-size="9.2" fill="#000" text-anchor="end">RSI(14) 58.0043</text>
<polygon points="1413,26 1423,26 1418,31" fill="#c0c0c0"/>
<defs>
<linearGradient id="gb1" x1="0" y1="0" x2="0" y2="1"><stop offset="0" stop-color="#5a5aff"/><stop offset="1" stop-color="#3838de"/></linearGradient>
<linearGradient id="gb2" x1="0" y1="0" x2="0" y2="1"><stop offset="0" stop-color="#3c3ce2"/><stop offset="0.55" stop-color="#1c1cc6"/><stop offset="1" stop-color="#0000a4"/></linearGradient>
<linearGradient id="gsp" x1="0" y1="0" x2="0" y2="1"><stop offset="0" stop-color="#f4f4f4"/><stop offset="0.5" stop-color="#e4e4e4"/><stop offset="0.52" stop-color="#d4d4d4"/><stop offset="1" stop-color="#d8d8d8"/></linearGradient>
</defs>
<g shape-rendering="crispEdges">
<rect x="0" y="45" width="206" height="64" fill="#ffffff"/>
<rect x="0" y="45" width="37" height="25" fill="#1414b4"/>
<rect x="0" y="46" width="36" height="24" fill="url(#gb1)"/>
<rect x="152" y="45" width="52" height="25" fill="#1414b4"/>
<rect x="153" y="46" width="50" height="24" fill="url(#gb1)"/>
<rect x="0" y="69" width="94" height="40" fill="#0a0aa8"/>
<rect x="0" y="70" width="93" height="38" fill="url(#gb2)"/>
<rect x="96" y="69" width="108" height="40" fill="#0a0aa8"/>
<rect x="97" y="70" width="106" height="38" fill="url(#gb2)"/>
<rect x="0" y="66" width="36" height="4" fill="#3a3ae0"/>
<rect x="153" y="66" width="50" height="4" fill="#3a3ae0"/>
<rect x="0" y="68" width="33" height="1" fill="#2020b8"/><rect x="0" y="69" width="33" height="1" fill="#7070f0"/>
<rect x="156" y="68" width="44" height="1" fill="#2020b8"/><rect x="156" y="69" width="44" height="1" fill="#7070f0"/>
<rect x="39" y="45" width="111" height="22" fill="#b0b0b0"/>
<rect x="40" y="46" width="109" height="20" fill="#ffffff"/>
<rect x="40" y="46" width="20" height="20" fill="url(#gsp)"/>
<rect x="129" y="46" width="20" height="20" fill="url(#gsp)"/>
<rect x="60" y="46" width="1" height="20" fill="#b0b0b0"/><rect x="128" y="46" width="1" height="20" fill="#b0b0b0"/>
</g>
<polygon points="47,54 52.6,54 49.8,57.2" fill="#5868c8"/>
<polygon points="136,57.2 141.6,57.2 138.8,54" fill="#5868c8"/>
<text x="-0.5" y="61" font-family="Liberation Sans, sans-serif" font-size="12" fill="#fff" textLength="23" lengthAdjust="spacingAndGlyphs">SELL</text>
<text x="177.2" y="61" font-family="Liberation Sans, sans-serif" font-size="12" fill="#fff" text-anchor="middle" textLength="23.5" lengthAdjust="spacingAndGlyphs">BUY</text>
<text x="124.5" y="60" font-family="Liberation Sans, sans-serif" font-size="12" fill="#000" text-anchor="end">1.00</text>
<text x="5.5" y="100" font-family="Liberation Sans, sans-serif" font-size="11.5" font-weight="bold" fill="#fff" textLength="23.5" lengthAdjust="spacingAndGlyphs">1.18</text>
<text x="32.8" y="100" font-family="Liberation Sans, sans-serif" font-size="35" fill="#fff" textLength="35" lengthAdjust="spacingAndGlyphs">26</text>
<text x="72" y="84" font-family="Liberation Sans, sans-serif" font-size="12" font-weight="bold" fill="#fff">4</text>
<text x="115" y="100" font-family="Liberation Sans, sans-serif" font-size="11.5" font-weight="bold" fill="#fff" textLength="23.5" lengthAdjust="spacingAndGlyphs">1.18</text>
<text x="143.5" y="100" font-family="Liberation Sans, sans-serif" font-size="35" fill="#fff" textLength="35" lengthAdjust="spacingAndGlyphs">28</text>
<text x="183" y="84" font-family="Liberation Sans, sans-serif" font-size="12" font-weight="bold" fill="#fff">4</text>
<g shape-rendering="crispEdges">
<rect x="0" y="0" width="1719" height="21" fill="#f0f0f0"/>
<rect x="0" y="21" width="1719" height="1" fill="#a6a6a6"/>
<rect x="0" y="22" width="1719" height="1" fill="#6e6e6e"/>
<rect x="0" y="23" width="1719" height="2" fill="#ffffff"/>
<rect x="308" y="0" width="24" height="19" fill="#f8f8f8"/>
<rect x="307" y="0" width="1" height="19" fill="#a0a0a0"/>
<rect x="459" y="0" width="25" height="19" fill="#f8f8f8"/>
<rect x="458" y="0" width="1" height="19" fill="#a0a0a0"/>
<rect x="488" y="0" width="24" height="19" fill="#f8f8f8"/>
<rect x="487" y="0" width="1" height="19" fill="#a0a0a0"/>
<rect x="648" y="0" width="24" height="19" fill="#f8f8f8"/>
<rect x="647" y="0" width="1" height="19" fill="#a0a0a0"/>
<rect x="1122" y="0" width="24" height="19" fill="#f8f8f8"/>
<rect x="1121" y="0" width="1" height="19" fill="#a0a0a0"/>
<rect x="33" y="1" width="1" height="18" fill="#a8a8a8"/>
<rect x="269" y="1" width="1" height="18" fill="#a8a8a8"/>
<rect x="364" y="1" width="1" height="18" fill="#a8a8a8"/>
<rect x="454" y="1" width="1" height="18" fill="#a8a8a8"/>
<rect x="516" y="1" width="1" height="18" fill="#a8a8a8"/>
<rect x="637" y="1" width="1" height="18" fill="#a8a8a8"/>
<rect x="704" y="1" width="1" height="18" fill="#a8a8a8"/>
<rect x="943" y="1" width="1" height="18" fill="#a8a8a8"/>
<rect x="1204" y="0" width="1" height="21" fill="#a0a0a0"/>
<rect x="273" y="1" width="3" height="1" fill="#b4b4b4"/>
<rect x="273" y="3" width="3" height="1" fill="#b4b4b4"/>
<rect x="273" y="5" width="3" height="1" fill="#b4b4b4"/>
<rect x="273" y="7" width="3" height="1" fill="#b4b4b4"/>
<rect x="273" y="9" width="3" height="1" fill="#b4b4b4"/>
<rect x="273" y="11" width="3" height="1" fill="#b4b4b4"/>
<rect x="273" y="13" width="3" height="1" fill="#b4b4b4"/>
<rect x="273" y="15" width="3" height="1" fill="#b4b4b4"/>
<rect x="273" y="17" width="3" height="1" fill="#b4b4b4"/>
<rect x="641" y="1" width="3" height="1" fill="#b4b4b4"/>
<rect x="641" y="3" width="3" height="1" fill="#b4b4b4"/>
<rect x="641" y="5" width="3" height="1" fill="#b4b4b4"/>
<rect x="641" y="7" width="3" height="1" fill="#b4b4b4"/>
<rect x="641" y="9" width="3" height="1" fill="#b4b4b4"/>
<rect x="641" y="11" width="3" height="1" fill="#b4b4b4"/>
<rect x="641" y="13" width="3" height="1" fill="#b4b4b4"/>
<rect x="641" y="15" width="3" height="1" fill="#b4b4b4"/>
<rect x="641" y="17" width="3" height="1" fill="#b4b4b4"/>
<rect x="947" y="1" width="3" height="1" fill="#b4b4b4"/>
<rect x="947" y="3" width="3" height="1" fill="#b4b4b4"/>
<rect x="947" y="5" width="3" height="1" fill="#b4b4b4"/>
<rect x="947" y="7" width="3" height="1" fill="#b4b4b4"/>
<rect x="947" y="9" width="3" height="1" fill="#b4b4b4"/>
<rect x="947" y="11" width="3" height="1" fill="#b4b4b4"/>
<rect x="947" y="13" width="3" height="1" fill="#b4b4b4"/>
<rect x="947" y="15" width="3" height="1" fill="#b4b4b4"/>
<rect x="947" y="17" width="3" height="1" fill="#b4b4b4"/>
</g>
<defs>
<linearGradient id="gbk" x1="0" y1="0" x2="1" y2="1"><stop offset="0" stop-color="#fbe678"/><stop offset="0.45" stop-color="#f2c422"/><stop offset="1" stop-color="#c4860e"/></linearGradient>
<linearGradient id="gcl" x1="0" y1="0" x2="0" y2="1"><stop offset="0" stop-color="#ffffff"/><stop offset="1" stop-color="#c4d0e6"/></linearGradient>
<linearGradient id="gpl" x1="0" y1="0" x2="0" y2="1"><stop offset="0" stop-color="#7af07a"/><stop offset="0.5" stop-color="#22d022"/><stop offset="1" stop-color="#12a412"/></linearGradient>
<radialGradient id="gmg" cx="0.4" cy="0.35" r="0.7"><stop offset="0" stop-color="#f4faff"/><stop offset="1" stop-color="#b8d4f2"/></radialGradient>
</defs>
<rect x="8.500" y="1.500" width="12" height="13" rx="0.800" fill="#fbfbfb" stroke="#a8a296"/>
<path d="M11.500 3v8M11.500 5h-1.200M11.500 8h1.200M15.500 2.500v6M18 3v7M18 4.500h1.200" stroke="#7c7c7c" stroke-width="0.900" fill="none"/>
<path d="M20.300 13.600L24.900 18.100" stroke="#c8962c" stroke-width="2.600" stroke-linecap="round"/>
<circle cx="16.500" cy="10" r="4.900" fill="url(#gmg)" fill-opacity="0.880" stroke="#6f9ad6" stroke-width="1.100"/>
<path d="M15 7.500v4.500h2v-3" stroke="#9ab0c8" stroke-width="1.200" fill="none"/>
<path d="M44.500 1.500h6.500l3.500 3.500v9h-10z" fill="#fdfdfd" stroke="#7e7e7e"/>
<path d="M51 1.500v3.500h3.500" fill="#e8e8e8" stroke="#7e7e7e" stroke-width="0.800"/>
<rect x="45.800" y="3.300" width="2.600" height="1.400" fill="#8a8a8a"/>
<path d="M45.800 7h5.500M45.800 9.200h4M45.800 11.400h2.500" stroke="#9a9a9a" stroke-width="0.900"/>
<path d="M47.300 11.100h4v-4h3.700v4h4v3.700h-4v4h-3.700v-4h-4z" fill="url(#gpl)" stroke="#0e8a0e" stroke-width="0.800"/>
<text x="61.5" y="12.5" font-family="Liberation Sans, Noto Sans CJK SC, sans-serif" font-size="12" fill="#000" textLength="36.5" lengthAdjust="spacing">新订单</text>
<path d="M110 11.300L115.300 3Q116.200 1.900 117.400 2.800L126 10.400L126 12.300L118.300 16.900Q117.200 17.500 116 16.700Z" fill="url(#gbk)" stroke="#a66a08" stroke-width="0.800" stroke-linejoin="round"/>
<path d="M117.600 15.300L125.600 10.600M117.400 16.300L125.800 11.500" stroke="#fff0b0" stroke-width="0.600"/>
<rect x="140.500" y="1.500" width="10.500" height="9" fill="#2f9df2" stroke="#1b70d2" stroke-width="0.700"/>
<path d="M140.800 1.800l3 1.400v7.200l-3-0.400z" fill="#a6daff"/>
<path d="M145.500 6.200l4-1" stroke="#e0f2ff" stroke-width="1.200"/>
<path d="M141.200 16.600a3.100 3.100 0 0 1-0.400-6.200a3.900 3.900 0 0 1 6.900-1.200a3 3 0 0 1 4.600 2.200a2.650 2.650 0 0 1-0.600 5.200z" fill="url(#gcl)" stroke="#5c7cb6" stroke-width="0.900"/>
<path d="M174.100 8.500L174.100 16.600A8 8 0 0 0 182 8.500Z" fill="#86cc86" fill-opacity="0.850"/>
<circle cx="174.100" cy="8.500" r="7.300" fill="none" stroke="#9ab2e2" stroke-width="1"/>
<circle cx="174.100" cy="8.500" r="4.600" fill="none" stroke="#6c8edc" stroke-width="1.100"/>
<path d="M174.700 9v7.800" stroke="#1fa01f" stroke-width="1.500"/>
<circle cx="174.100" cy="8.300" r="1.800" fill="#2558d0"/>
<path d="M194.300 8.500c3.500 1.900 9.500 1.700 13.200-0.700l-0.300 3.200l-5.700 5.800l-1.800-0.300z" fill="#f9d94c" stroke="#d2a21e" stroke-width="0.700"/>
<path d="M193.400 6.600c1.200-2 3.800-2.500 5-3.300c1.200-2.300 4.600-2.300 5.800-0.100c1.300 0.900 4 1.400 5 3.300c-1.400 2.500-5 3.100-7.900 3.100s-6.600-0.500-7.900-3z" fill="#4da2e4" stroke="#2b7ac4" stroke-width="0.700"/>
<path d="M198.300 4c1.500-1.200 4.300-1.200 5.800 0" stroke="#a8d8ff" stroke-width="0.900" fill="none"/>
<circle cx="205.600" cy="12.700" r="4.100" fill="#e6200e" stroke="#f8f8f8" stroke-width="0.500"/>
<rect x="204.100" y="11.200" width="3" height="3" fill="#fff"/>
<text x="214.5" y="12.5" font-family="Liberation Sans, Noto Sans CJK SC, sans-serif" font-size="12" fill="#000" textLength="46" lengthAdjust="spacing">自动交易</text>
<path d="M288.5 2.5v14M285 14.5h13.5" stroke="#505050" stroke-width="1.2" fill="none"/><path d="M286.8 5l1.700-3l1.700 3zM296.5 12.800l3 1.700l-3 1.700z" fill="#505050"/>
<path d="M293.5 4v8.500M293.500 5h2.500M291 11.500h2.500" stroke="#2a9a2a" stroke-width="1.300" fill="none"/>
<path d="M316.5 2.5v14M313 14.5h13.5" stroke="#505050" stroke-width="1.2" fill="none"/><path d="M314.8 5l1.700-3l1.700 3zM324.5 12.800l3 1.700l-3 1.700z" fill="#505050"/>
<path d="M321.500 1v12" stroke="#1d7a1d" stroke-width="1"/><rect x="319.800" y="3" width="3.400" height="8" fill="#35d035" stroke="#1d8a1d" stroke-width="0.800"/>
<path d="M344.5 2.5v14M341 14.5h13.500" stroke="#505050" stroke-width="1.2" fill="none"/><path d="M342.8 5l1.700-3l1.700 3zM352.5 12.800l3 1.700l-3 1.700z" fill="#505050"/>
<path d="M342.500 12c2-3 4-6.500 6.500-6.500s3.500 3 5.500 5" stroke="#2a9a2a" stroke-width="1.200" fill="none"/>
<path d="M383.5 12L388.5 17" stroke="#c9a227" stroke-width="2.600" stroke-linecap="round"/><circle cx="379.5" cy="7.500" r="5.500" fill="#dcebfa" stroke="#3f7fd6" stroke-width="1.600"/><path d="M376.5 7.500h6" stroke="#2f6fce" stroke-width="1.800"/><path d="M379.5 4.500v6" stroke="#2f6fce" stroke-width="1.800"/>
<path d="M411.5 12L416.5 17" stroke="#c9a227" stroke-width="2.600" stroke-linecap="round"/><circle cx="407.5" cy="7.500" r="5.500" fill="#dcebfa" stroke="#3f7fd6" stroke-width="1.600"/><path d="M404.5 7.500h6" stroke="#2f6fce" stroke-width="1.800"/>
<rect x="428" y="1" width="8" height="8" fill="#58b030"/><rect x="437" y="1" width="8" height="8" fill="#2a5ad0"/><rect x="428" y="10" width="8" height="8" fill="#2a5ad0"/><rect x="437" y="10" width="8" height="8" fill="#58b030"/>
<path d="M430 4h4M439 4h4M430 13h4M439 13h4" stroke="#fff" stroke-width="2.200"/>
<path d="M468.5 2.5v14M465 14.500h13.500" stroke="#505050" stroke-width="1.2" fill="none"/><path d="M466.8 5l1.700-3l1.700 3zM476.5 12.800l3 1.700l-3 1.700z" fill="#505050"/>
<path d="M472.500 5l4 3.500l-4 3.500z" fill="#7ae07a" stroke="#1d8a1d" stroke-width="1"/>
<path d="M496.5 2.5v14M493 14.500h13.500" stroke="#505050" stroke-width="1.2" fill="none"/><path d="M494.8 5l1.700-3l1.700 3zM504.5 12.800l3 1.700l-3 1.700z" fill="#505050"/>
<path d="M501.500 3v9.500" stroke="#2a6ab0" stroke-width="1.200"/><path d="M502.500 8.500l4-2.500v5z" fill="#e04010"/><path d="M503 8.500h4" stroke="#e04010" stroke-width="1"/>
<path d="M526.500 2.500h6l2.500 2.500v9h-8.500z" fill="#fdfdfd" stroke="#8a8a8a"/><path d="M529 1.500h6l2 2v9" fill="none" stroke="#9a9a9a"/>
<path d="M530 10.300h3.800v-3.800h3.600v3.800h3.800v3.600h-3.800v3.800h-3.600v-3.800h-3.800z" fill="#2fc02f" stroke="#158a15" stroke-width="0.800"/>
<path d="M548 8h5.500l-2.750 3z" fill="#000"/>
<circle cx="572" cy="9" r="7.200" fill="#f6f9fd" stroke="#2f72d8" stroke-width="2.200"/><path d="M572 4.500v4.800h3.500" stroke="#555" stroke-width="1.100" fill="none"/>
<path d="M587 8h5.500l-2.750 3z" fill="#000"/>
<rect x="603.500" y="2.500" width="15" height="13" fill="#fafcff" stroke="#3a74cc" stroke-width="1.200"/><rect x="603" y="2" width="16" height="3" fill="#3a74cc"/>
<path d="M606 8.500l3-1l2 0.500l3-1.500l2 0.800" stroke="#c03010" stroke-width="1.200" fill="none"/><path d="M606 13l3-1l2 0.500l3-1.800l2 1.500" stroke="#2a9a2a" stroke-width="1.200" fill="none"/>
<path d="M625.5 8h5.500l-2.750 3z" fill="#000"/>
<path d="M655.500 2.500v12l3-2.800l2.200 4.800l1.800-0.900l-2.200-4.600h4z" fill="#404040"/>
<path d="M687.500 2v14.500M680 9.500h15" stroke="#404040" stroke-width="1"/>
<path d="M721.500 3v13.500" stroke="#404040" stroke-width="1.200"/><path d="M744 9.500h12.500" stroke="#404040" stroke-width="1.200"/><path d="M772 16L784.500 4" stroke="#404040" stroke-width="1.200"/>
<path d="M797.500 11L810 2.500M799.500 15.500L812 7M800 9.500l2 5.500M803.500 7l2 5.500M807 4.500l2 5.500" stroke="#404040" stroke-width="1.100" fill="none"/>
<text x="808.500" y="18" font-family="Liberation Sans, sans-serif" font-size="7" font-weight="bold" fill="#303030">E</text>
<path d="M827 2.500h14M827 6.500h14M827 10.500h14M827 14.500h9" stroke="#404040" stroke-width="1" stroke-dasharray="1 1"/>
<text x="836.500" y="18" font-family="Liberation Sans, sans-serif" font-size="7" font-weight="bold" fill="#303030">F</text>
<text x="856.500" y="14" font-family="Liberation Sans, sans-serif" font-size="11.500" fill="#404040">A</text>
<rect x="884.500" y="3.500" width="11" height="12" fill="none" stroke="#505050" stroke-width="1" stroke-dasharray="1 1" shape-rendering="crispEdges"/>
<text x="890" y="14" font-family="Liberation Sans, sans-serif" font-size="11.500" fill="#404040" text-anchor="middle">T</text>
<path d="M915 3l2.800 3l-2.800 3l-2.800-3zM922 9.500l2.800 3l-2.800 3l-2.800-3z" fill="#404040"/><path d="M913.500 11.500l2.500 2.500l4.500-6" stroke="#404040" stroke-width="1.300" fill="none"/>
<path d="M932 8h5.500l-2.750 3z" fill="#000"/>
<text x="965" y="12.300" font-family="Liberation Sans, sans-serif" font-size="9.200" fill="#303030" text-anchor="middle">M1</text>
<text x="992.8" y="12.300" font-family="Liberation Sans, sans-serif" font-size="9.200" fill="#303030" text-anchor="middle">M5</text>
<text x="1021.2" y="12.300" font-family="Liberation Sans, sans-serif" font-size="9.200" fill="#303030" text-anchor="middle">M15</text>
<text x="1049" y="12.300" font-family="Liberation Sans, sans-serif" font-size="9.200" fill="#303030" text-anchor="middle">M30</text>
<text x="1077" y="12.300" font-family="Liberation Sans, sans-serif" font-size="9.200" fill="#303030" text-anchor="middle">H1</text>
<text x="1105" y="12.300" font-family="Liberation Sans, sans-serif" font-size="9.200" fill="#303030" text-anchor="middle">H4</text>
<text x="1133.5" y="12.300" font-family="Liberation Sans, sans-serif" font-size="9.200" fill="#303030" text-anchor="middle">D1</text>
<text x="1162.2" y="12.300" font-family="Liberation Sans, sans-serif" font-size="9.200" fill="#303030" text-anchor="middle">W1</text>
<text x="1188.8" y="12.300" font-family="Liberation Sans, sans-serif" font-size="9.200" fill="#303030" text-anchor="middle">MN</text>
<circle cx="1674.500" cy="6.500" r="3.800" fill="#f0f0f0" stroke="#2f62d0" stroke-width="1.500"/><path d="M1671.800 9.300L1667 14" stroke="#2f62d0" stroke-width="2.200" stroke-linecap="round"/>
<ellipse cx="1707" cy="6.500" rx="6.500" ry="5" fill="#e4e4e8" stroke="#a8a8b0" stroke-width="0.900"/><path d="M1708 11l2 2.200l0.300-2.500z" fill="#c8c8d0"/>
<ellipse cx="1698" cy="10" rx="5" ry="3.800" fill="#ececf0" stroke="#a8a8b0" stroke-width="0.900"/><path d="M1696 13.300l-0.800 2.200l2.500-2z" fill="#c8c8d0"/>
</svg>
</body></html>
